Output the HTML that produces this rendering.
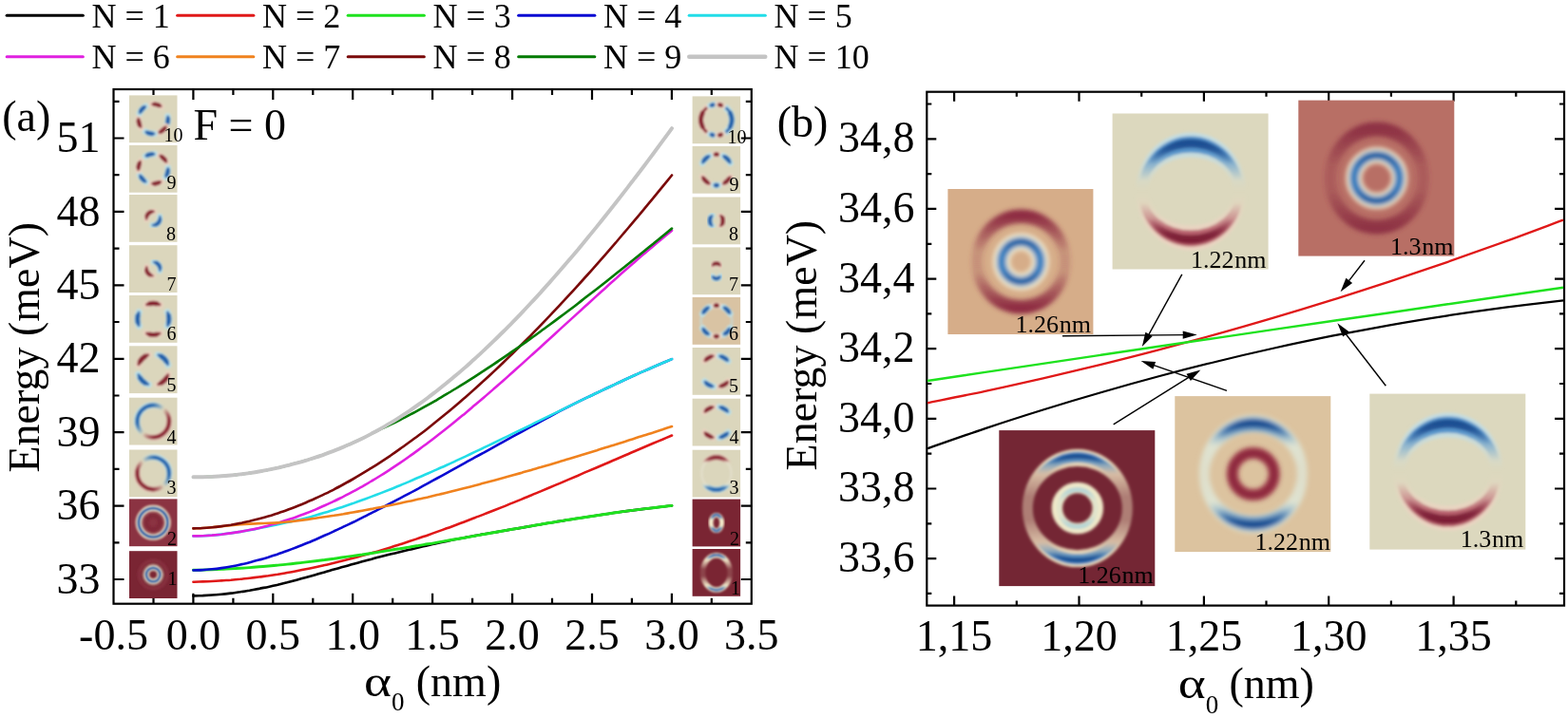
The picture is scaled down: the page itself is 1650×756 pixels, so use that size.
<!DOCTYPE html><html><head><meta charset="utf-8"><style>html,body{margin:0;padding:0;background:#fff;}svg{display:block}</style></head><body>
<svg width="1650" height="756" viewBox="0 0 1650 756" font-family="'Liberation Serif', 'Times New Roman', serif">
<rect width="1650" height="756" fill="#fff"/>
<line x1="7.2" y1="16.2" x2="87.3" y2="16.2" stroke="#000000" stroke-width="3.1" stroke-linecap="round"/>
<text x="96.5" y="28.6" font-size="36">N = 1</text>
<line x1="186.7" y1="16.2" x2="266.8" y2="16.2" stroke="#e01818" stroke-width="3.1" stroke-linecap="round"/>
<text x="276.0" y="28.6" font-size="36">N = 2</text>
<line x1="366.2" y1="16.2" x2="446.3" y2="16.2" stroke="#1ee21e" stroke-width="3.1" stroke-linecap="round"/>
<text x="455.5" y="28.6" font-size="36">N = 3</text>
<line x1="545.7" y1="16.2" x2="625.8" y2="16.2" stroke="#0a0ad2" stroke-width="3.1" stroke-linecap="round"/>
<text x="635.0" y="28.6" font-size="36">N = 4</text>
<line x1="725.2" y1="16.2" x2="805.3" y2="16.2" stroke="#22dde8" stroke-width="3.1" stroke-linecap="round"/>
<text x="814.5" y="28.6" font-size="36">N = 5</text>
<line x1="7.2" y1="59.8" x2="87.3" y2="59.8" stroke="#e020e0" stroke-width="3.1" stroke-linecap="round"/>
<text x="96.5" y="72.2" font-size="36">N = 6</text>
<line x1="186.7" y1="59.8" x2="266.8" y2="59.8" stroke="#f0821e" stroke-width="3.1" stroke-linecap="round"/>
<text x="276.0" y="72.2" font-size="36">N = 7</text>
<line x1="366.2" y1="59.8" x2="446.3" y2="59.8" stroke="#7a0a0a" stroke-width="3.1" stroke-linecap="round"/>
<text x="455.5" y="72.2" font-size="36">N = 8</text>
<line x1="545.7" y1="59.8" x2="625.8" y2="59.8" stroke="#007a00" stroke-width="3.1" stroke-linecap="round"/>
<text x="635.0" y="72.2" font-size="36">N = 9</text>
<line x1="725.2" y1="59.8" x2="805.3" y2="59.8" stroke="#c4c4c4" stroke-width="4.4" stroke-linecap="round"/>
<text x="814.5" y="72.2" font-size="36">N = 10</text>
<defs>
<filter id="b1" x="-20%" y="-20%" width="140%" height="140%"><feGaussianBlur stdDeviation="0.9"/></filter>
<filter id="b2" x="-20%" y="-20%" width="140%" height="140%"><feGaussianBlur stdDeviation="1.6"/></filter>
<filter id="b3" x="-20%" y="-20%" width="140%" height="140%"><feGaussianBlur stdDeviation="2.6"/></filter>
<filter id="b4" x="-20%" y="-20%" width="140%" height="140%"><feGaussianBlur stdDeviation="4"/></filter>
</defs>
<rect x="119.5" y="94.0" width="671.3" height="541.7" fill="none" stroke="#000" stroke-width="2.2"/>
<path d="M203.4,635.7v-11M203.4,94.0v11M287.3,635.7v-11M287.3,94.0v11M371.2,635.7v-11M371.2,94.0v11M455.1,635.7v-11M455.1,94.0v11M539.1,635.7v-11M539.1,94.0v11M623.0,635.7v-11M623.0,94.0v11M706.9,635.7v-11M706.9,94.0v11M119.5,610.0h11M790.8,610.0h-11M119.5,532.6h11M790.8,532.6h-11M119.5,455.2h11M790.8,455.2h-11M119.5,377.8h11M790.8,377.8h-11M119.5,300.3h11M790.8,300.3h-11M119.5,222.9h11M790.8,222.9h-11M119.5,145.5h11M790.8,145.5h-11M161.5,635.7v-6M161.5,94.0v6M245.4,635.7v-6M245.4,94.0v6M329.3,635.7v-6M329.3,94.0v6M413.2,635.7v-6M413.2,94.0v6M497.1,635.7v-6M497.1,94.0v6M581.0,635.7v-6M581.0,94.0v6M664.9,635.7v-6M664.9,94.0v6M748.8,635.7v-6M748.8,94.0v6M119.5,571.3h6M790.8,571.3h-6M119.5,493.9h6M790.8,493.9h-6M119.5,416.5h6M790.8,416.5h-6M119.5,339.0h6M790.8,339.0h-6M119.5,261.6h6M790.8,261.6h-6M119.5,184.2h6M790.8,184.2h-6M119.5,106.8h6M790.8,106.8h-6" stroke="#000" stroke-width="2.2" fill="none"/>
<rect x="136.0" y="100.4" width="50.5" height="49.8" fill="#dbd6bc"/><g filter="url(#b1)"><path d="M160.16,109.74A15.60,15.60 0 0 1 169.52,112.07" fill="none" stroke="#ead2c0" stroke-width="6.800000000000001" stroke-linecap="round" stroke-opacity="1"/><path d="M160.71,109.71A15.60,15.60 0 0 1 169.05,111.79" fill="none" stroke="#8e2a38" stroke-width="2.94" stroke-linecap="round" stroke-opacity="1"/><path d="M162.81,109.78A15.60,15.60 0 0 1 167.16,110.86" fill="none" stroke="#86202f" stroke-width="4.620000000000001" stroke-linecap="round" stroke-opacity="1"/><path d="M176.56,122.32A15.60,15.60 0 0 1 175.39,131.89" fill="none" stroke="#bfe0e6" stroke-width="6.800000000000001" stroke-linecap="round" stroke-opacity="1"/><path d="M176.66,122.86A15.60,15.60 0 0 1 175.61,131.40" fill="none" stroke="#2a6cb0" stroke-width="2.94" stroke-linecap="round" stroke-opacity="1"/><path d="M176.85,124.96A15.60,15.60 0 0 1 176.30,129.40" fill="none" stroke="#2262aa" stroke-width="4.620000000000001" stroke-linecap="round" stroke-opacity="1"/><path d="M174.62,133.33A15.60,15.60 0 0 1 167.35,139.66" fill="none" stroke="#ead2c0" stroke-width="6.800000000000001" stroke-linecap="round" stroke-opacity="1"/><path d="M174.33,133.80A15.60,15.60 0 0 1 167.84,139.44" fill="none" stroke="#8e2a38" stroke-width="2.94" stroke-linecap="round" stroke-opacity="1"/><path d="M173.07,135.48A15.60,15.60 0 0 1 169.69,138.42" fill="none" stroke="#86202f" stroke-width="4.620000000000001" stroke-linecap="round" stroke-opacity="1"/><path d="M162.61,140.84A15.60,15.60 0 0 1 153.22,138.67" fill="none" stroke="#bfe0e6" stroke-width="6.800000000000001" stroke-linecap="round" stroke-opacity="1"/><path d="M162.07,140.88A15.60,15.60 0 0 1 153.69,138.94" fill="none" stroke="#2a6cb0" stroke-width="2.94" stroke-linecap="round" stroke-opacity="1"/><path d="M159.96,140.85A15.60,15.60 0 0 1 155.60,139.84" fill="none" stroke="#2262aa" stroke-width="4.620000000000001" stroke-linecap="round" stroke-opacity="1"/><path d="M148.32,134.02A15.60,15.60 0 0 1 145.66,124.76" fill="none" stroke="#ead2c0" stroke-width="6.800000000000001" stroke-linecap="round" stroke-opacity="1"/><path d="M148.02,133.57A15.60,15.60 0 0 1 145.65,125.30" fill="none" stroke="#8e2a38" stroke-width="2.94" stroke-linecap="round" stroke-opacity="1"/><path d="M147.03,131.71A15.60,15.60 0 0 1 145.79,127.40" fill="none" stroke="#86202f" stroke-width="4.620000000000001" stroke-linecap="round" stroke-opacity="1"/><path d="M146.89,119.20A15.60,15.60 0 0 1 153.22,111.93" fill="none" stroke="#bfe0e6" stroke-width="6.800000000000001" stroke-linecap="round" stroke-opacity="1"/><path d="M147.11,118.71A15.60,15.60 0 0 1 152.75,112.22" fill="none" stroke="#2a6cb0" stroke-width="2.94" stroke-linecap="round" stroke-opacity="1"/><path d="M148.13,116.86A15.60,15.60 0 0 1 151.07,113.48" fill="none" stroke="#2262aa" stroke-width="4.620000000000001" stroke-linecap="round" stroke-opacity="1"/></g>
<rect x="728.6" y="101.4" width="50.5" height="49.8" fill="#dbd6bc"/><g filter="url(#b1)"><path d="M743.48,138.88A16.30,16.30 0 0 1 743.48,113.72" fill="none" stroke="#ead2c0" stroke-width="7.0" stroke-linecap="round" stroke-opacity="1"/><path d="M743.05,138.51A16.30,16.30 0 0 1 743.05,114.09" fill="none" stroke="#8e2a38" stroke-width="3.08" stroke-linecap="round" stroke-opacity="1"/><path d="M739.22,133.48A16.30,16.30 0 0 1 739.22,119.12" fill="none" stroke="#86202f" stroke-width="4.840000000000001" stroke-linecap="round" stroke-opacity="1"/><path d="M764.22,113.72A16.30,16.30 0 0 1 764.22,138.88" fill="none" stroke="#bfe0e6" stroke-width="7.0" stroke-linecap="round" stroke-opacity="1"/><path d="M764.65,114.09A16.30,16.30 0 0 1 764.65,138.51" fill="none" stroke="#2a6cb0" stroke-width="3.08" stroke-linecap="round" stroke-opacity="1"/><path d="M768.48,119.12A16.30,16.30 0 0 1 768.48,133.48" fill="none" stroke="#2262aa" stroke-width="4.840000000000001" stroke-linecap="round" stroke-opacity="1"/><path d="M747.48,111.30A16.30,16.30 0 0 1 751.86,110.12" fill="none" stroke="#bfe0e6" stroke-width="6.6" stroke-linecap="round" stroke-opacity="1"/><path d="M748.01,111.08A16.30,16.30 0 0 1 751.30,110.20" fill="none" stroke="#2a6cb0" stroke-width="2.8" stroke-linecap="round" stroke-opacity="1"/><path d="M748.88,110.78A16.30,16.30 0 0 1 750.39,110.37" fill="none" stroke="#2262aa" stroke-width="4.4" stroke-linecap="round" stroke-opacity="1"/><path d="M755.84,110.12A16.30,16.30 0 0 1 760.22,111.30" fill="none" stroke="#ead2c0" stroke-width="6.6" stroke-linecap="round" stroke-opacity="1"/><path d="M756.40,110.20A16.30,16.30 0 0 1 759.69,111.08" fill="none" stroke="#8e2a38" stroke-width="2.8" stroke-linecap="round" stroke-opacity="1"/><path d="M757.31,110.37A16.30,16.30 0 0 1 758.82,110.78" fill="none" stroke="#86202f" stroke-width="4.4" stroke-linecap="round" stroke-opacity="1"/><path d="M751.86,142.48A16.30,16.30 0 0 1 747.48,141.30" fill="none" stroke="#bfe0e6" stroke-width="6.6" stroke-linecap="round" stroke-opacity="1"/><path d="M751.30,142.40A16.30,16.30 0 0 1 748.01,141.52" fill="none" stroke="#2a6cb0" stroke-width="2.8" stroke-linecap="round" stroke-opacity="1"/><path d="M750.39,142.23A16.30,16.30 0 0 1 748.88,141.82" fill="none" stroke="#2262aa" stroke-width="4.4" stroke-linecap="round" stroke-opacity="1"/><path d="M760.22,141.30A16.30,16.30 0 0 1 755.84,142.48" fill="none" stroke="#ead2c0" stroke-width="6.6" stroke-linecap="round" stroke-opacity="1"/><path d="M759.69,141.52A16.30,16.30 0 0 1 756.40,142.40" fill="none" stroke="#8e2a38" stroke-width="2.8" stroke-linecap="round" stroke-opacity="1"/><path d="M758.82,141.82A16.30,16.30 0 0 1 757.31,142.23" fill="none" stroke="#86202f" stroke-width="4.4" stroke-linecap="round" stroke-opacity="1"/></g>
<rect x="136.0" y="152.9" width="50.5" height="49.8" fill="#dbd6bc"/><g filter="url(#b1)"><path d="M153.22,164.43A15.60,15.60 0 0 1 162.61,162.26" fill="none" stroke="#bfe0e6" stroke-width="6.800000000000001" stroke-linecap="round" stroke-opacity="1"/><path d="M153.69,164.16A15.60,15.60 0 0 1 162.07,162.22" fill="none" stroke="#2a6cb0" stroke-width="2.94" stroke-linecap="round" stroke-opacity="1"/><path d="M155.60,163.26A15.60,15.60 0 0 1 159.96,162.25" fill="none" stroke="#2262aa" stroke-width="4.620000000000001" stroke-linecap="round" stroke-opacity="1"/><path d="M168.33,163.90A15.60,15.60 0 0 1 175.15,170.72" fill="none" stroke="#ead2c0" stroke-width="6.800000000000001" stroke-linecap="round" stroke-opacity="1"/><path d="M168.81,164.16A15.60,15.60 0 0 1 174.89,170.24" fill="none" stroke="#8e2a38" stroke-width="2.94" stroke-linecap="round" stroke-opacity="1"/><path d="M170.58,165.30A15.60,15.60 0 0 1 173.75,168.47" fill="none" stroke="#86202f" stroke-width="4.620000000000001" stroke-linecap="round" stroke-opacity="1"/><path d="M176.83,176.98A15.60,15.60 0 0 1 174.33,186.30" fill="none" stroke="#bfe0e6" stroke-width="6.800000000000001" stroke-linecap="round" stroke-opacity="1"/><path d="M176.85,177.53A15.60,15.60 0 0 1 174.62,185.83" fill="none" stroke="#2a6cb0" stroke-width="2.94" stroke-linecap="round" stroke-opacity="1"/><path d="M176.74,179.63A15.60,15.60 0 0 1 175.58,183.96" fill="none" stroke="#2262aa" stroke-width="4.620000000000001" stroke-linecap="round" stroke-opacity="1"/><path d="M169.28,191.17A15.60,15.60 0 0 1 159.89,193.34" fill="none" stroke="#ead2c0" stroke-width="6.800000000000001" stroke-linecap="round" stroke-opacity="1"/><path d="M168.81,191.44A15.60,15.60 0 0 1 160.43,193.38" fill="none" stroke="#8e2a38" stroke-width="2.94" stroke-linecap="round" stroke-opacity="1"/><path d="M166.90,192.34A15.60,15.60 0 0 1 162.54,193.35" fill="none" stroke="#86202f" stroke-width="4.620000000000001" stroke-linecap="round" stroke-opacity="1"/><path d="M153.69,191.44A15.60,15.60 0 0 1 147.11,184.39" fill="none" stroke="#bfe0e6" stroke-width="6.800000000000001" stroke-linecap="round" stroke-opacity="1"/><path d="M153.22,191.17A15.60,15.60 0 0 1 147.35,184.88" fill="none" stroke="#2a6cb0" stroke-width="2.94" stroke-linecap="round" stroke-opacity="1"/><path d="M151.49,189.97A15.60,15.60 0 0 1 148.43,186.69" fill="none" stroke="#2262aa" stroke-width="4.620000000000001" stroke-linecap="round" stroke-opacity="1"/><path d="M145.71,179.16A15.60,15.60 0 0 1 147.88,169.77" fill="none" stroke="#ead2c0" stroke-width="6.800000000000001" stroke-linecap="round" stroke-opacity="1"/><path d="M145.67,178.62A15.60,15.60 0 0 1 147.61,170.24" fill="none" stroke="#8e2a38" stroke-width="2.94" stroke-linecap="round" stroke-opacity="1"/><path d="M145.70,176.51A15.60,15.60 0 0 1 146.71,172.15" fill="none" stroke="#86202f" stroke-width="4.620000000000001" stroke-linecap="round" stroke-opacity="1"/></g>
<rect x="728.6" y="153.9" width="50.5" height="49.8" fill="#dbd6bc"/><g filter="url(#b1)"><path d="M751.58,162.66A16.30,16.30 0 0 1 756.12,162.66" fill="none" stroke="#ead2c0" stroke-width="6.800000000000001" stroke-linecap="round" stroke-opacity="1"/><path d="M752.15,162.59A16.30,16.30 0 0 1 755.55,162.59" fill="none" stroke="#8e2a38" stroke-width="2.94" stroke-linecap="round" stroke-opacity="1"/><path d="M753.07,162.52A16.30,16.30 0 0 1 754.63,162.52" fill="none" stroke="#86202f" stroke-width="4.620000000000001" stroke-linecap="round" stroke-opacity="1"/><path d="M739.20,171.65A16.30,16.30 0 0 1 746.70,164.15" fill="none" stroke="#bfe0e6" stroke-width="6.800000000000001" stroke-linecap="round" stroke-opacity="1"/><path d="M739.46,171.15A16.30,16.30 0 0 1 746.20,164.41" fill="none" stroke="#2a6cb0" stroke-width="2.94" stroke-linecap="round" stroke-opacity="1"/><path d="M740.70,169.17A16.30,16.30 0 0 1 744.22,165.65" fill="none" stroke="#2262aa" stroke-width="4.620000000000001" stroke-linecap="round" stroke-opacity="1"/><path d="M761.00,164.15A16.30,16.30 0 0 1 768.50,171.65" fill="none" stroke="#bfe0e6" stroke-width="6.800000000000001" stroke-linecap="round" stroke-opacity="1"/><path d="M761.50,164.41A16.30,16.30 0 0 1 768.24,171.15" fill="none" stroke="#2a6cb0" stroke-width="2.94" stroke-linecap="round" stroke-opacity="1"/><path d="M763.48,165.65A16.30,16.30 0 0 1 767.00,169.17" fill="none" stroke="#2262aa" stroke-width="4.620000000000001" stroke-linecap="round" stroke-opacity="1"/><path d="M746.70,193.45A16.30,16.30 0 0 1 739.20,185.95" fill="none" stroke="#ead2c0" stroke-width="6.800000000000001" stroke-linecap="round" stroke-opacity="1"/><path d="M746.20,193.19A16.30,16.30 0 0 1 739.46,186.45" fill="none" stroke="#8e2a38" stroke-width="2.94" stroke-linecap="round" stroke-opacity="1"/><path d="M744.22,191.95A16.30,16.30 0 0 1 740.70,188.43" fill="none" stroke="#86202f" stroke-width="4.620000000000001" stroke-linecap="round" stroke-opacity="1"/><path d="M768.50,185.95A16.30,16.30 0 0 1 761.00,193.45" fill="none" stroke="#ead2c0" stroke-width="6.800000000000001" stroke-linecap="round" stroke-opacity="1"/><path d="M768.24,186.45A16.30,16.30 0 0 1 761.50,193.19" fill="none" stroke="#8e2a38" stroke-width="2.94" stroke-linecap="round" stroke-opacity="1"/><path d="M767.00,188.43A16.30,16.30 0 0 1 763.48,191.95" fill="none" stroke="#86202f" stroke-width="4.620000000000001" stroke-linecap="round" stroke-opacity="1"/><path d="M756.12,194.94A16.30,16.30 0 0 1 751.58,194.94" fill="none" stroke="#bfe0e6" stroke-width="6.800000000000001" stroke-linecap="round" stroke-opacity="1"/><path d="M755.55,195.01A16.30,16.30 0 0 1 752.15,195.01" fill="none" stroke="#2a6cb0" stroke-width="2.94" stroke-linecap="round" stroke-opacity="1"/><path d="M754.63,195.08A16.30,16.30 0 0 1 753.07,195.08" fill="none" stroke="#2262aa" stroke-width="4.620000000000001" stroke-linecap="round" stroke-opacity="1"/></g>
<rect x="136.0" y="205.0" width="50.5" height="49.8" fill="#dbd6bc"/><g filter="url(#b1)"><path d="M154.08,230.59A7.20,7.20 0 0 1 161.94,222.73" fill="none" stroke="#ead2c0" stroke-width="6.4" stroke-linecap="round" stroke-opacity="1"/><path d="M154.06,230.34A7.20,7.20 0 0 1 161.69,222.71" fill="none" stroke="#8e2a38" stroke-width="2.6599999999999997" stroke-linecap="round" stroke-opacity="1"/><path d="M154.44,227.57A7.20,7.20 0 0 1 158.92,223.09" fill="none" stroke="#86202f" stroke-width="4.18" stroke-linecap="round" stroke-opacity="1"/><path d="M168.19,227.98A7.20,7.20 0 0 1 160.56,237.07" fill="none" stroke="#bfe0e6" stroke-width="6.4" stroke-linecap="round" stroke-opacity="1"/><path d="M168.25,228.22A7.20,7.20 0 0 1 160.81,237.09" fill="none" stroke="#2a6cb0" stroke-width="2.6599999999999997" stroke-linecap="round" stroke-opacity="1"/><path d="M168.31,231.29A7.20,7.20 0 0 1 163.84,236.62" fill="none" stroke="#2262aa" stroke-width="4.18" stroke-linecap="round" stroke-opacity="1"/></g>
<rect x="728.6" y="207.5" width="50.5" height="49.8" fill="#dbd6bc"/><g filter="url(#b1)"><path d="M749.40,237.80A7.00,7.00 0 0 1 749.40,227.00" fill="none" stroke="#bfe0e6" stroke-width="6.6" stroke-linecap="round" stroke-opacity="1"/><path d="M749.21,237.64A7.00,7.00 0 0 1 749.21,227.16" fill="none" stroke="#2a6cb0" stroke-width="2.8" stroke-linecap="round" stroke-opacity="1"/><path d="M747.57,235.48A7.00,7.00 0 0 1 747.57,229.32" fill="none" stroke="#2262aa" stroke-width="4.4" stroke-linecap="round" stroke-opacity="1"/><path d="M758.30,227.00A7.00,7.00 0 0 1 758.30,237.80" fill="none" stroke="#ead2c0" stroke-width="6.6" stroke-linecap="round" stroke-opacity="1"/><path d="M758.49,227.16A7.00,7.00 0 0 1 758.49,237.64" fill="none" stroke="#8e2a38" stroke-width="2.8" stroke-linecap="round" stroke-opacity="1"/><path d="M760.13,229.32A7.00,7.00 0 0 1 760.13,235.48" fill="none" stroke="#86202f" stroke-width="4.4" stroke-linecap="round" stroke-opacity="1"/></g>
<rect x="136.0" y="258.2" width="50.5" height="49.8" fill="#dbd6bc"/><g filter="url(#b1)"><path d="M161.81,275.92A7.20,7.20 0 0 1 168.19,285.02" fill="none" stroke="#bfe0e6" stroke-width="6.4" stroke-linecap="round" stroke-opacity="1"/><path d="M162.07,275.95A7.20,7.20 0 0 1 168.25,284.78" fill="none" stroke="#2a6cb0" stroke-width="2.6599999999999997" stroke-linecap="round" stroke-opacity="1"/><path d="M164.73,276.80A7.20,7.20 0 0 1 168.36,281.99" fill="none" stroke="#2262aa" stroke-width="4.18" stroke-linecap="round" stroke-opacity="1"/><path d="M160.69,290.28A7.20,7.20 0 0 1 154.31,281.18" fill="none" stroke="#ead2c0" stroke-width="6.4" stroke-linecap="round" stroke-opacity="1"/><path d="M160.43,290.25A7.20,7.20 0 0 1 154.25,281.42" fill="none" stroke="#8e2a38" stroke-width="2.6599999999999997" stroke-linecap="round" stroke-opacity="1"/><path d="M157.77,289.40A7.20,7.20 0 0 1 154.14,284.21" fill="none" stroke="#86202f" stroke-width="4.18" stroke-linecap="round" stroke-opacity="1"/></g>
<rect x="728.6" y="260.4" width="50.5" height="49.8" fill="#dbd6bc"/><g filter="url(#b1)"><path d="M749.76,279.45A6.00,8.00 0 0 1 757.94,279.45" fill="none" stroke="#ead2c0" stroke-width="6.4" stroke-linecap="round" stroke-opacity="1"/><path d="M749.91,279.26A6.00,8.00 0 0 1 757.79,279.26" fill="none" stroke="#8e2a38" stroke-width="2.6599999999999997" stroke-linecap="round" stroke-opacity="1"/><path d="M751.60,277.88A6.00,8.00 0 0 1 756.10,277.88" fill="none" stroke="#86202f" stroke-width="4.18" stroke-linecap="round" stroke-opacity="1"/><path d="M757.94,291.15A6.00,8.00 0 0 1 749.76,291.15" fill="none" stroke="#bfe0e6" stroke-width="6.4" stroke-linecap="round" stroke-opacity="1"/><path d="M757.79,291.34A6.00,8.00 0 0 1 749.91,291.34" fill="none" stroke="#2a6cb0" stroke-width="2.6599999999999997" stroke-linecap="round" stroke-opacity="1"/><path d="M756.10,292.72A6.00,8.00 0 0 1 751.60,292.72" fill="none" stroke="#2262aa" stroke-width="4.18" stroke-linecap="round" stroke-opacity="1"/></g>
<rect x="136.0" y="311.0" width="50.5" height="49.8" fill="#dbd6bc"/><g filter="url(#b1)"><path d="M154.10,320.92A16.60,16.60 0 0 1 168.40,320.92" fill="none" stroke="#ead2c0" stroke-width="7.199999999999999" stroke-linecap="round" stroke-opacity="1"/><path d="M154.63,320.68A16.60,16.60 0 0 1 167.87,320.68" fill="none" stroke="#8e2a38" stroke-width="3.2199999999999998" stroke-linecap="round" stroke-opacity="1"/><path d="M157.69,319.69A16.60,16.60 0 0 1 164.81,319.69" fill="none" stroke="#86202f" stroke-width="5.06" stroke-linecap="round" stroke-opacity="1"/><path d="M176.23,328.75A16.60,16.60 0 0 1 176.23,343.05" fill="none" stroke="#bfe0e6" stroke-width="7.199999999999999" stroke-linecap="round" stroke-opacity="1"/><path d="M176.47,329.28A16.60,16.60 0 0 1 176.47,342.52" fill="none" stroke="#2a6cb0" stroke-width="3.2199999999999998" stroke-linecap="round" stroke-opacity="1"/><path d="M177.46,332.34A16.60,16.60 0 0 1 177.46,339.46" fill="none" stroke="#2262aa" stroke-width="5.06" stroke-linecap="round" stroke-opacity="1"/><path d="M168.40,350.88A16.60,16.60 0 0 1 154.10,350.88" fill="none" stroke="#ead2c0" stroke-width="7.199999999999999" stroke-linecap="round" stroke-opacity="1"/><path d="M167.87,351.12A16.60,16.60 0 0 1 154.63,351.12" fill="none" stroke="#8e2a38" stroke-width="3.2199999999999998" stroke-linecap="round" stroke-opacity="1"/><path d="M164.81,352.11A16.60,16.60 0 0 1 157.69,352.11" fill="none" stroke="#86202f" stroke-width="5.06" stroke-linecap="round" stroke-opacity="1"/><path d="M146.27,343.05A16.60,16.60 0 0 1 146.27,328.75" fill="none" stroke="#bfe0e6" stroke-width="7.199999999999999" stroke-linecap="round" stroke-opacity="1"/><path d="M146.03,342.52A16.60,16.60 0 0 1 146.03,329.28" fill="none" stroke="#2a6cb0" stroke-width="3.2199999999999998" stroke-linecap="round" stroke-opacity="1"/><path d="M145.04,339.46A16.60,16.60 0 0 1 145.04,332.34" fill="none" stroke="#2262aa" stroke-width="5.06" stroke-linecap="round" stroke-opacity="1"/></g>
<rect x="728.6" y="313.0" width="50.5" height="49.8" fill="#d9c3a3"/><g filter="url(#b1)"><circle cx="753.9" cy="337.9" r="16.3" fill="none" stroke="#bfe0e6" stroke-width="3" opacity="0.5"/><path d="M751.58,321.76A16.30,16.30 0 0 1 756.12,321.76" fill="none" stroke="#ead2c0" stroke-width="6.800000000000001" stroke-linecap="round" stroke-opacity="1"/><path d="M752.15,321.69A16.30,16.30 0 0 1 755.55,321.69" fill="none" stroke="#8e2a38" stroke-width="2.94" stroke-linecap="round" stroke-opacity="1"/><path d="M753.07,321.62A16.30,16.30 0 0 1 754.63,321.62" fill="none" stroke="#86202f" stroke-width="4.620000000000001" stroke-linecap="round" stroke-opacity="1"/><path d="M761.50,323.51A16.30,16.30 0 0 1 768.24,330.25" fill="none" stroke="#bfe0e6" stroke-width="6.800000000000001" stroke-linecap="round" stroke-opacity="1"/><path d="M762.00,323.78A16.30,16.30 0 0 1 767.97,329.75" fill="none" stroke="#2a6cb0" stroke-width="2.94" stroke-linecap="round" stroke-opacity="1"/><path d="M763.73,324.93A16.30,16.30 0 0 1 766.82,328.02" fill="none" stroke="#2262aa" stroke-width="4.620000000000001" stroke-linecap="round" stroke-opacity="1"/><path d="M768.24,345.55A16.30,16.30 0 0 1 761.50,352.29" fill="none" stroke="#bfe0e6" stroke-width="6.800000000000001" stroke-linecap="round" stroke-opacity="1"/><path d="M767.97,346.05A16.30,16.30 0 0 1 762.00,352.02" fill="none" stroke="#2a6cb0" stroke-width="2.94" stroke-linecap="round" stroke-opacity="1"/><path d="M766.82,347.78A16.30,16.30 0 0 1 763.73,350.87" fill="none" stroke="#2262aa" stroke-width="4.620000000000001" stroke-linecap="round" stroke-opacity="1"/><path d="M746.20,352.29A16.30,16.30 0 0 1 739.46,345.55" fill="none" stroke="#bfe0e6" stroke-width="6.800000000000001" stroke-linecap="round" stroke-opacity="1"/><path d="M745.70,352.02A16.30,16.30 0 0 1 739.73,346.05" fill="none" stroke="#2a6cb0" stroke-width="2.94" stroke-linecap="round" stroke-opacity="1"/><path d="M743.97,350.87A16.30,16.30 0 0 1 740.88,347.78" fill="none" stroke="#2262aa" stroke-width="4.620000000000001" stroke-linecap="round" stroke-opacity="1"/><path d="M739.46,330.25A16.30,16.30 0 0 1 746.20,323.51" fill="none" stroke="#bfe0e6" stroke-width="6.800000000000001" stroke-linecap="round" stroke-opacity="1"/><path d="M739.73,329.75A16.30,16.30 0 0 1 745.70,323.78" fill="none" stroke="#2a6cb0" stroke-width="2.94" stroke-linecap="round" stroke-opacity="1"/><path d="M740.88,328.02A16.30,16.30 0 0 1 743.97,324.93" fill="none" stroke="#2262aa" stroke-width="4.620000000000001" stroke-linecap="round" stroke-opacity="1"/><path d="M756.12,354.04A16.30,16.30 0 0 1 751.58,354.04" fill="none" stroke="#ead2c0" stroke-width="6.800000000000001" stroke-linecap="round" stroke-opacity="1"/><path d="M755.55,354.11A16.30,16.30 0 0 1 752.15,354.11" fill="none" stroke="#8e2a38" stroke-width="2.94" stroke-linecap="round" stroke-opacity="1"/><path d="M754.63,354.18A16.30,16.30 0 0 1 753.07,354.18" fill="none" stroke="#86202f" stroke-width="4.620000000000001" stroke-linecap="round" stroke-opacity="1"/></g>
<rect x="136.0" y="364.3" width="50.5" height="49.8" fill="#dbd6bc"/><g filter="url(#b1)"><path d="M145.65,384.13A16.40,16.40 0 0 1 156.18,373.60" fill="none" stroke="#ead2c0" stroke-width="7.199999999999999" stroke-linecap="round" stroke-opacity="1"/><path d="M145.84,383.59A16.40,16.40 0 0 1 155.64,373.79" fill="none" stroke="#8e2a38" stroke-width="3.2199999999999998" stroke-linecap="round" stroke-opacity="1"/><path d="M147.31,380.56A16.40,16.40 0 0 1 152.61,375.26" fill="none" stroke="#86202f" stroke-width="5.06" stroke-linecap="round" stroke-opacity="1"/><path d="M166.32,373.60A16.40,16.40 0 0 1 176.85,384.13" fill="none" stroke="#bfe0e6" stroke-width="7.199999999999999" stroke-linecap="round" stroke-opacity="1"/><path d="M166.86,373.79A16.40,16.40 0 0 1 176.66,383.59" fill="none" stroke="#2a6cb0" stroke-width="3.2199999999999998" stroke-linecap="round" stroke-opacity="1"/><path d="M169.89,375.26A16.40,16.40 0 0 1 175.19,380.56" fill="none" stroke="#2262aa" stroke-width="5.06" stroke-linecap="round" stroke-opacity="1"/><path d="M176.85,394.27A16.40,16.40 0 0 1 166.32,404.80" fill="none" stroke="#ead2c0" stroke-width="7.199999999999999" stroke-linecap="round" stroke-opacity="1"/><path d="M176.66,394.81A16.40,16.40 0 0 1 166.86,404.61" fill="none" stroke="#8e2a38" stroke-width="3.2199999999999998" stroke-linecap="round" stroke-opacity="1"/><path d="M175.19,397.84A16.40,16.40 0 0 1 169.89,403.14" fill="none" stroke="#86202f" stroke-width="5.06" stroke-linecap="round" stroke-opacity="1"/><path d="M156.18,404.80A16.40,16.40 0 0 1 145.65,394.27" fill="none" stroke="#bfe0e6" stroke-width="7.199999999999999" stroke-linecap="round" stroke-opacity="1"/><path d="M155.64,404.61A16.40,16.40 0 0 1 145.84,394.81" fill="none" stroke="#2a6cb0" stroke-width="3.2199999999999998" stroke-linecap="round" stroke-opacity="1"/><path d="M152.61,403.14A16.40,16.40 0 0 1 147.31,397.84" fill="none" stroke="#2262aa" stroke-width="5.06" stroke-linecap="round" stroke-opacity="1"/></g>
<rect x="728.6" y="366.0" width="50.5" height="49.8" fill="#dbd6bc"/><g filter="url(#b1)"><path d="M741.47,380.14A16.40,16.40 0 0 1 750.72,374.80" fill="none" stroke="#ead2c0" stroke-width="6.800000000000001" stroke-linecap="round" stroke-opacity="1"/><path d="M741.86,379.72A16.40,16.40 0 0 1 750.16,374.92" fill="none" stroke="#8e2a38" stroke-width="2.94" stroke-linecap="round" stroke-opacity="1"/><path d="M743.57,378.12A16.40,16.40 0 0 1 747.92,375.61" fill="none" stroke="#86202f" stroke-width="4.620000000000001" stroke-linecap="round" stroke-opacity="1"/><path d="M756.98,374.80A16.40,16.40 0 0 1 766.23,380.14" fill="none" stroke="#bfe0e6" stroke-width="6.800000000000001" stroke-linecap="round" stroke-opacity="1"/><path d="M757.54,374.92A16.40,16.40 0 0 1 765.84,379.72" fill="none" stroke="#2a6cb0" stroke-width="2.94" stroke-linecap="round" stroke-opacity="1"/><path d="M759.78,375.61A16.40,16.40 0 0 1 764.13,378.12" fill="none" stroke="#2262aa" stroke-width="4.620000000000001" stroke-linecap="round" stroke-opacity="1"/><path d="M766.23,401.66A16.40,16.40 0 0 1 756.98,407.00" fill="none" stroke="#ead2c0" stroke-width="6.800000000000001" stroke-linecap="round" stroke-opacity="1"/><path d="M765.84,402.08A16.40,16.40 0 0 1 757.54,406.88" fill="none" stroke="#8e2a38" stroke-width="2.94" stroke-linecap="round" stroke-opacity="1"/><path d="M764.13,403.68A16.40,16.40 0 0 1 759.78,406.19" fill="none" stroke="#86202f" stroke-width="4.620000000000001" stroke-linecap="round" stroke-opacity="1"/><path d="M750.72,407.00A16.40,16.40 0 0 1 741.47,401.66" fill="none" stroke="#bfe0e6" stroke-width="6.800000000000001" stroke-linecap="round" stroke-opacity="1"/><path d="M750.16,406.88A16.40,16.40 0 0 1 741.86,402.08" fill="none" stroke="#2a6cb0" stroke-width="2.94" stroke-linecap="round" stroke-opacity="1"/><path d="M747.92,406.19A16.40,16.40 0 0 1 743.57,403.68" fill="none" stroke="#2262aa" stroke-width="4.620000000000001" stroke-linecap="round" stroke-opacity="1"/></g>
<rect x="136.0" y="418.7" width="50.5" height="49.8" fill="#dbd6bc"/><g filter="url(#b1)"><ellipse cx="161.2" cy="443.6" rx="16.8" ry="16.8" fill="none" stroke="url(#g0)" stroke-width="7.5" opacity="1"/><ellipse cx="161.2" cy="443.6" rx="16.8" ry="16.8" fill="none" stroke="url(#g1)" stroke-width="4.4" opacity="1"/><ellipse cx="161.2" cy="443.6" rx="16.8" ry="16.8" fill="none" stroke="url(#g2)" stroke-width="7.5" opacity="1"/><ellipse cx="161.2" cy="443.6" rx="16.8" ry="16.8" fill="none" stroke="url(#g3)" stroke-width="4.4" opacity="1"/></g>
<rect x="728.6" y="419.7" width="50.5" height="49.8" fill="#dbd6bc"/><g filter="url(#b1)"><path d="M741.47,433.84A16.40,16.40 0 0 1 750.72,428.50" fill="none" stroke="#ead2c0" stroke-width="6.800000000000001" stroke-linecap="round" stroke-opacity="1"/><path d="M741.86,433.42A16.40,16.40 0 0 1 750.16,428.62" fill="none" stroke="#8e2a38" stroke-width="2.94" stroke-linecap="round" stroke-opacity="1"/><path d="M743.57,431.82A16.40,16.40 0 0 1 747.92,429.31" fill="none" stroke="#86202f" stroke-width="4.620000000000001" stroke-linecap="round" stroke-opacity="1"/><path d="M756.98,428.50A16.40,16.40 0 0 1 766.23,433.84" fill="none" stroke="#bfe0e6" stroke-width="6.800000000000001" stroke-linecap="round" stroke-opacity="1"/><path d="M757.54,428.62A16.40,16.40 0 0 1 765.84,433.42" fill="none" stroke="#2a6cb0" stroke-width="2.94" stroke-linecap="round" stroke-opacity="1"/><path d="M759.78,429.31A16.40,16.40 0 0 1 764.13,431.82" fill="none" stroke="#2262aa" stroke-width="4.620000000000001" stroke-linecap="round" stroke-opacity="1"/><path d="M750.72,460.70A16.40,16.40 0 0 1 741.47,455.36" fill="none" stroke="#ead2c0" stroke-width="6.800000000000001" stroke-linecap="round" stroke-opacity="1"/><path d="M750.16,460.58A16.40,16.40 0 0 1 741.86,455.78" fill="none" stroke="#8e2a38" stroke-width="2.94" stroke-linecap="round" stroke-opacity="1"/><path d="M747.92,459.89A16.40,16.40 0 0 1 743.57,457.38" fill="none" stroke="#86202f" stroke-width="4.620000000000001" stroke-linecap="round" stroke-opacity="1"/><path d="M766.23,455.36A16.40,16.40 0 0 1 756.98,460.70" fill="none" stroke="#bfe0e6" stroke-width="6.800000000000001" stroke-linecap="round" stroke-opacity="1"/><path d="M765.84,455.78A16.40,16.40 0 0 1 757.54,460.58" fill="none" stroke="#2a6cb0" stroke-width="2.94" stroke-linecap="round" stroke-opacity="1"/><path d="M764.13,457.38A16.40,16.40 0 0 1 759.78,459.89" fill="none" stroke="#2262aa" stroke-width="4.620000000000001" stroke-linecap="round" stroke-opacity="1"/></g>
<rect x="136.0" y="473.5" width="50.5" height="49.8" fill="#dbd6bc"/><g filter="url(#b1)"><ellipse cx="161.2" cy="498.4" rx="16.8" ry="16.8" fill="none" stroke="url(#g4)" stroke-width="7.5" opacity="1"/><ellipse cx="161.2" cy="498.4" rx="16.8" ry="16.8" fill="none" stroke="url(#g5)" stroke-width="4.4" opacity="1"/><ellipse cx="161.2" cy="498.4" rx="16.8" ry="16.8" fill="none" stroke="url(#g6)" stroke-width="7.5" opacity="1"/><ellipse cx="161.2" cy="498.4" rx="16.8" ry="16.8" fill="none" stroke="url(#g7)" stroke-width="4.4" opacity="1"/></g>
<rect x="728.6" y="473.7" width="50.5" height="49.8" fill="#dbd6bc"/><g filter="url(#b1)"><ellipse cx="753.9" cy="498.6" rx="15.5" ry="17" fill="none" stroke="#e9e6d6" stroke-width="2.5" opacity="0.5"/><ellipse cx="753.9" cy="498.6" rx="15.5" ry="17" fill="none" stroke="url(#g8)" stroke-width="7" opacity="1"/><ellipse cx="753.9" cy="498.6" rx="15.5" ry="17" fill="none" stroke="url(#g9)" stroke-width="4.8" opacity="1"/><ellipse cx="753.9" cy="498.6" rx="15.5" ry="17" fill="none" stroke="url(#g10)" stroke-width="7" opacity="1"/><ellipse cx="753.9" cy="498.6" rx="15.5" ry="17" fill="none" stroke="url(#g11)" stroke-width="4.8" opacity="1"/></g>
<rect x="136.0" y="525.4" width="50.5" height="49.8" fill="#8b3342"/><g filter="url(#b1)"><circle cx="161.2" cy="550.3" r="7" fill="none" stroke="#7a2230" stroke-width="4" opacity="0.6"/><circle cx="161.2" cy="550.3" r="15.2" fill="none" stroke="#f4eccc" stroke-width="6.6"/><circle cx="161.2" cy="550.3" r="15.2" fill="none" stroke="#1f5fa6" stroke-width="3.4"/></g>
<rect x="728.6" y="525.6" width="50.5" height="49.8" fill="#7a2533"/><g filter="url(#b1)"><ellipse cx="753.9" cy="550.5" rx="5.8" ry="8.2" fill="none" stroke="#f4eccc" stroke-width="4.8" opacity="1"/><ellipse cx="753.9" cy="550.5" rx="5.8" ry="8.4" fill="none" stroke="url(#g12)" stroke-width="3" opacity="1"/></g>
<rect x="136.0" y="580.2" width="50.5" height="49.8" fill="#7a2533"/><g filter="url(#b1)"><circle cx="161.2" cy="605.1" r="14.5" fill="none" stroke="#8c3444" stroke-width="4" opacity="0.7"/><circle cx="161.2" cy="605.1" r="7.3" fill="none" stroke="#f4eccc" stroke-width="6.4"/><circle cx="161.2" cy="605.1" r="7.3" fill="none" stroke="#1f5fa6" stroke-width="3.2"/></g>
<rect x="728.6" y="578.0" width="50.5" height="49.8" fill="#7a2533"/><g filter="url(#b1)"><ellipse cx="753.9" cy="602.9" rx="14.3" ry="18.2" fill="none" stroke="url(#g13)" stroke-width="5.5" opacity="1"/><ellipse cx="753.9" cy="602.9" rx="14.3" ry="18.4" fill="none" stroke="url(#g14)" stroke-width="3" opacity="1"/></g>
<text x="172.5" y="148.9" font-size="20">10</text>
<text x="765.5" y="150.7" font-size="20">10</text>
<text x="175.5" y="199.1" font-size="20">9</text>
<text x="767.5" y="200.5" font-size="20">9</text>
<text x="175" y="253.2" font-size="20">8</text>
<text x="767" y="253.2" font-size="20">8</text>
<text x="175.5" y="306.3" font-size="20">7</text>
<text x="767" y="306.3" font-size="20">7</text>
<text x="175.5" y="358.2" font-size="20">6</text>
<text x="767" y="358.2" font-size="20">6</text>
<text x="175.5" y="412" font-size="20">5</text>
<text x="767" y="412.7" font-size="20">5</text>
<text x="175.5" y="467.1" font-size="20">4</text>
<text x="767.5" y="467.1" font-size="20">4</text>
<text x="175.5" y="519.7" font-size="20">3</text>
<text x="767.5" y="519.7" font-size="20">3</text>
<text x="176" y="573.6" font-size="20">2</text>
<text x="768" y="574" font-size="20">2</text>
<text x="176.5" y="615.7" font-size="20">1</text>
<text x="769" y="625.6" font-size="20">1</text>
<path d="M203.4,627.4 C205.0,627.3 210.0,627.2 213.3,627.1 C216.6,626.9 219.9,626.7 223.1,626.5 C226.4,626.3 229.7,626.0 233.0,625.7 C236.3,625.4 239.6,625.0 242.9,624.6 C246.2,624.2 249.5,623.7 252.8,623.3 C256.1,622.8 259.4,622.2 262.6,621.7 C265.9,621.1 269.2,620.5 272.5,619.9 C275.8,619.2 279.1,618.6 282.4,617.9 C285.7,617.2 289.0,616.4 292.3,615.7 C295.6,614.9 298.9,614.1 302.1,613.3 C305.4,612.4 308.7,611.6 312.0,610.7 C315.3,609.8 318.6,608.9 321.9,608.0 C325.2,607.1 328.5,606.2 331.8,605.3 C335.1,604.3 338.4,603.4 341.6,602.5 C344.9,601.5 348.2,600.6 351.5,599.6 C354.8,598.7 358.1,597.7 361.4,596.8 C364.7,595.9 368.0,594.9 371.3,594.0 C374.6,593.1 377.8,592.2 381.1,591.3 C384.4,590.4 387.7,589.5 391.0,588.7 C394.3,587.8 397.6,586.9 400.9,586.1 C404.2,585.3 407.5,584.4 410.8,583.6 C414.1,582.8 417.3,582.0 420.6,581.2 C423.9,580.4 427.2,579.6 430.5,578.8 C433.8,578.0 437.1,577.3 440.4,576.5 C443.7,575.7 447.0,575.0 450.3,574.2 C453.6,573.5 456.8,572.7 460.1,572.0 C463.4,571.3 466.7,570.5 470.0,569.9 C473.3,569.2 476.6,568.5 479.9,567.8 C483.2,567.2 486.5,566.6 489.8,565.9 C493.1,565.3 496.3,564.7 499.6,564.1 C502.9,563.5 506.2,563.0 509.5,562.4 C512.8,561.8 516.1,561.3 519.4,560.7 C522.7,560.1 526.0,559.6 529.3,559.0 C532.6,558.4 535.8,557.9 539.1,557.3 C542.4,556.7 545.7,556.1 549.0,555.6 C552.3,555.0 555.6,554.4 558.9,553.9 C562.2,553.3 565.5,552.8 568.8,552.2 C572.0,551.6 575.3,551.1 578.6,550.5 C581.9,550.0 585.2,549.4 588.5,548.9 C591.8,548.4 595.1,547.8 598.4,547.3 C601.7,546.8 605.0,546.2 608.3,545.7 C611.5,545.2 614.8,544.7 618.1,544.2 C621.4,543.7 624.7,543.2 628.0,542.7 C631.3,542.2 634.6,541.7 637.9,541.2 C641.2,540.7 644.5,540.3 647.8,539.8 C651.0,539.3 654.3,538.9 657.6,538.4 C660.9,538.0 664.2,537.6 667.5,537.1 C670.8,536.7 674.1,536.3 677.4,535.9 C680.7,535.5 684.0,535.1 687.3,534.7 C690.5,534.3 693.8,533.9 697.1,533.5 C700.4,533.1 705.4,532.6 707.0,532.4" fill="none" stroke="#000000" stroke-width="2.6" stroke-linecap="round" stroke-linejoin="round"/>
<path d="M203.4,612.7 C205.0,612.6 210.0,612.5 213.3,612.4 C216.6,612.3 219.9,612.2 223.1,612.0 C226.4,611.8 229.7,611.6 233.0,611.4 C236.3,611.2 239.6,610.9 242.9,610.7 C246.2,610.4 249.5,610.1 252.8,609.8 C256.1,609.4 259.4,609.1 262.6,608.7 C265.9,608.3 269.2,607.9 272.5,607.5 C275.8,607.1 279.1,606.6 282.4,606.2 C285.7,605.7 289.0,605.2 292.3,604.7 C295.6,604.1 298.9,603.6 302.1,603.0 C305.4,602.5 308.7,601.9 312.0,601.2 C315.3,600.6 318.6,600.0 321.9,599.3 C325.2,598.7 328.5,598.0 331.8,597.3 C335.1,596.6 338.4,595.8 341.6,595.1 C344.9,594.3 348.2,593.6 351.5,592.8 C354.8,592.0 358.1,591.2 361.4,590.3 C364.7,589.5 368.0,588.7 371.3,587.8 C374.6,586.9 377.8,586.0 381.1,585.1 C384.4,584.2 387.7,583.3 391.0,582.3 C394.3,581.4 397.6,580.4 400.9,579.4 C404.2,578.4 407.5,577.4 410.8,576.4 C414.1,575.4 417.3,574.3 420.6,573.3 C423.9,572.2 427.2,571.2 430.5,570.1 C433.8,569.0 437.1,567.9 440.4,566.8 C443.7,565.7 447.0,564.5 450.3,563.4 C453.6,562.2 456.8,561.1 460.1,559.9 C463.4,558.7 466.7,557.5 470.0,556.3 C473.3,555.2 476.6,553.9 479.9,552.7 C483.2,551.5 486.5,550.3 489.8,549.0 C493.1,547.8 496.3,546.5 499.6,545.2 C502.9,544.0 506.2,542.7 509.5,541.4 C512.8,540.1 516.1,538.8 519.4,537.5 C522.7,536.2 526.0,534.9 529.3,533.6 C532.6,532.3 535.8,530.9 539.1,529.6 C542.4,528.3 545.7,526.9 549.0,525.6 C552.3,524.2 555.6,522.8 558.9,521.5 C562.2,520.1 565.5,518.7 568.8,517.4 C572.0,516.0 575.3,514.6 578.6,513.2 C581.9,511.8 585.2,510.5 588.5,509.1 C591.8,507.7 595.1,506.3 598.4,504.9 C601.7,503.5 605.0,502.1 608.3,500.7 C611.5,499.2 614.8,497.8 618.1,496.4 C621.4,495.0 624.7,493.6 628.0,492.2 C631.3,490.8 634.6,489.4 637.9,488.0 C641.2,486.5 644.5,485.1 647.8,483.7 C651.0,482.3 654.3,480.9 657.6,479.5 C660.9,478.1 664.2,476.7 667.5,475.2 C670.8,473.8 674.1,472.4 677.4,471.0 C680.7,469.6 684.0,468.2 687.3,466.8 C690.5,465.4 693.8,464.0 697.1,462.7 C700.4,461.3 705.4,459.2 707.0,458.5" fill="none" stroke="#e01818" stroke-width="2.6" stroke-linecap="round" stroke-linejoin="round"/>
<path d="M203.4,600.3 C205.0,600.3 210.0,600.2 213.3,600.1 C216.6,600.0 219.9,599.9 223.1,599.8 C226.4,599.7 229.7,599.5 233.0,599.4 C236.3,599.2 239.6,599.1 242.9,598.9 C246.2,598.7 249.5,598.5 252.8,598.3 C256.1,598.1 259.4,597.9 262.6,597.6 C265.9,597.4 269.2,597.1 272.5,596.8 C275.8,596.6 279.1,596.3 282.4,596.0 C285.7,595.7 289.0,595.4 292.3,595.1 C295.6,594.8 298.9,594.4 302.1,594.1 C305.4,593.8 308.7,593.4 312.0,593.0 C315.3,592.7 318.6,592.3 321.9,591.9 C325.2,591.5 328.5,591.1 331.8,590.7 C335.1,590.3 338.4,589.9 341.6,589.5 C344.9,589.0 348.2,588.6 351.5,588.2 C354.8,587.7 358.1,587.3 361.4,586.8 C364.7,586.4 368.0,585.9 371.3,585.4 C374.6,584.9 377.8,584.4 381.1,584.0 C384.4,583.5 387.7,583.0 391.0,582.5 C394.3,582.0 397.6,581.5 400.9,580.9 C404.2,580.4 407.5,579.9 410.8,579.4 C414.1,578.8 417.3,578.3 420.6,577.8 C423.9,577.2 427.2,576.7 430.5,576.1 C433.8,575.6 437.1,575.0 440.4,574.5 C443.7,573.9 447.0,573.4 450.3,572.8 C453.6,572.3 456.8,571.7 460.1,571.1 C463.4,570.6 466.7,570.0 470.0,569.4 C473.3,568.8 476.6,568.3 479.9,567.7 C483.2,567.1 486.5,566.5 489.8,566.0 C493.1,565.4 496.3,564.8 499.6,564.2 C502.9,563.6 506.2,563.1 509.5,562.5 C512.8,561.9 516.1,561.3 519.4,560.7 C522.7,560.2 526.0,559.6 529.3,559.0 C532.6,558.4 535.8,557.9 539.1,557.3 C542.4,556.7 545.7,556.1 549.0,555.6 C552.3,555.0 555.6,554.4 558.9,553.9 C562.2,553.3 565.5,552.8 568.8,552.2 C572.0,551.6 575.3,551.1 578.6,550.5 C581.9,550.0 585.2,549.4 588.5,548.9 C591.8,548.4 595.1,547.8 598.4,547.3 C601.7,546.8 605.0,546.2 608.3,545.7 C611.5,545.2 614.8,544.7 618.1,544.2 C621.4,543.7 624.7,543.2 628.0,542.7 C631.3,542.2 634.6,541.7 637.9,541.2 C641.2,540.7 644.5,540.3 647.8,539.8 C651.0,539.3 654.3,538.9 657.6,538.4 C660.9,538.0 664.2,537.6 667.5,537.1 C670.8,536.7 674.1,536.3 677.4,535.9 C680.7,535.5 684.0,535.1 687.3,534.7 C690.5,534.3 693.8,533.9 697.1,533.5 C700.4,533.1 705.4,532.6 707.0,532.4" fill="none" stroke="#1ee21e" stroke-width="2.9" stroke-linecap="round" stroke-linejoin="round"/>
<path d="M203.4,600.5 C205.0,600.4 210.0,600.3 213.3,600.1 C216.6,599.9 219.9,599.6 223.1,599.3 C226.4,599.0 229.7,598.6 233.0,598.1 C236.3,597.6 239.6,597.1 242.9,596.5 C246.2,595.9 249.5,595.3 252.8,594.5 C256.1,593.8 259.4,593.1 262.6,592.2 C265.9,591.4 269.2,590.5 272.5,589.6 C275.8,588.7 279.1,587.7 282.4,586.7 C285.7,585.6 289.0,584.6 292.3,583.5 C295.6,582.3 298.9,581.2 302.1,580.0 C305.4,578.8 308.7,577.5 312.0,576.3 C315.3,575.0 318.6,573.7 321.9,572.3 C325.2,571.0 328.5,569.6 331.8,568.2 C335.1,566.8 338.4,565.3 341.6,563.8 C344.9,562.4 348.2,560.9 351.5,559.3 C354.8,557.8 358.1,556.3 361.4,554.7 C364.7,553.1 368.0,551.6 371.3,550.0 C374.6,548.4 377.8,546.7 381.1,545.1 C384.4,543.5 387.7,541.8 391.0,540.1 C394.3,538.5 397.6,536.8 400.9,535.1 C404.2,533.4 407.5,531.7 410.8,530.0 C414.1,528.3 417.3,526.5 420.6,524.8 C423.9,523.1 427.2,521.3 430.5,519.6 C433.8,517.8 437.1,516.0 440.4,514.3 C443.7,512.5 447.0,510.7 450.3,508.9 C453.6,507.1 456.8,505.3 460.1,503.5 C463.4,501.7 466.7,499.9 470.0,498.1 C473.3,496.3 476.6,494.5 479.9,492.6 C483.2,490.8 486.5,489.0 489.8,487.2 C493.1,485.4 496.3,483.5 499.6,481.7 C502.9,479.9 506.2,478.1 509.5,476.3 C512.8,474.4 516.1,472.6 519.4,470.8 C522.7,469.0 526.0,467.2 529.3,465.3 C532.6,463.5 535.8,461.7 539.1,459.9 C542.4,458.1 545.7,456.3 549.0,454.5 C552.3,452.7 555.6,451.0 558.9,449.2 C562.2,447.4 565.5,445.6 568.8,443.8 C572.0,442.0 575.3,440.2 578.6,438.5 C581.9,436.7 585.2,435.0 588.5,433.2 C591.8,431.5 595.1,429.8 598.4,428.1 C601.7,426.5 605.0,424.8 608.3,423.2 C611.5,421.6 614.8,420.0 618.1,418.4 C621.4,416.8 624.7,415.2 628.0,413.7 C631.3,412.1 634.6,410.6 637.9,409.0 C641.2,407.5 644.5,405.9 647.8,404.4 C651.0,402.8 654.3,401.3 657.6,399.8 C660.9,398.3 664.2,396.8 667.5,395.3 C670.8,393.8 674.1,392.3 677.4,390.9 C680.7,389.4 684.0,388.0 687.3,386.5 C690.5,385.1 693.8,383.7 697.1,382.3 C700.4,380.9 705.4,378.8 707.0,378.1" fill="none" stroke="#0a0ad2" stroke-width="2.6" stroke-linecap="round" stroke-linejoin="round"/>
<path d="M203.4,564.4 C205.0,564.4 210.0,564.3 213.3,564.2 C216.6,564.0 219.9,563.8 223.1,563.6 C226.4,563.3 229.7,563.0 233.0,562.6 C236.3,562.2 239.6,561.8 242.9,561.4 C246.2,560.9 249.5,560.4 252.8,559.9 C256.1,559.3 259.4,558.7 262.6,558.1 C265.9,557.6 269.2,556.9 272.5,556.3 C275.8,555.6 279.1,555.0 282.4,554.3 C285.7,553.6 289.0,552.9 292.3,552.2 C295.6,551.5 298.9,550.8 302.1,550.1 C305.4,549.4 308.7,548.6 312.0,547.8 C315.3,547.1 318.6,546.3 321.9,545.4 C325.2,544.6 328.5,543.7 331.8,542.7 C335.1,541.8 338.4,540.8 341.6,539.8 C344.9,538.8 348.2,537.8 351.5,536.7 C354.8,535.6 358.1,534.6 361.4,533.5 C364.7,532.4 368.0,531.2 371.3,530.1 C374.6,528.9 377.8,527.7 381.1,526.5 C384.4,525.3 387.7,524.1 391.0,522.9 C394.3,521.6 397.6,520.4 400.9,519.1 C404.2,517.8 407.5,516.5 410.8,515.2 C414.1,513.9 417.3,512.5 420.6,511.2 C423.9,509.8 427.2,508.4 430.5,507.1 C433.8,505.7 437.1,504.3 440.4,502.8 C443.7,501.4 447.0,500.0 450.3,498.5 C453.6,497.1 456.8,495.6 460.1,494.1 C463.4,492.7 466.7,491.2 470.0,489.7 C473.3,488.2 476.6,486.7 479.9,485.1 C483.2,483.6 486.5,482.1 489.8,480.6 C493.1,479.0 496.3,477.5 499.6,475.9 C502.9,474.3 506.2,472.8 509.5,471.2 C512.8,469.6 516.1,468.1 519.4,466.5 C522.7,464.9 526.0,463.3 529.3,461.7 C532.6,460.1 535.8,458.5 539.1,456.9 C542.4,455.3 545.7,453.7 549.0,452.1 C552.3,450.5 555.6,448.9 558.9,447.3 C562.2,445.6 565.5,444.0 568.8,442.4 C572.0,440.8 575.3,439.2 578.6,437.6 C581.9,436.0 585.2,434.4 588.5,432.8 C591.8,431.2 595.1,429.5 598.4,427.9 C601.7,426.3 605.0,424.8 608.3,423.2 C611.5,421.6 614.8,420.0 618.1,418.4 C621.4,416.8 624.7,415.2 628.0,413.7 C631.3,412.1 634.6,410.6 637.9,409.0 C641.2,407.5 644.5,405.9 647.8,404.4 C651.0,402.8 654.3,401.3 657.6,399.8 C660.9,398.3 664.2,396.8 667.5,395.3 C670.8,393.8 674.1,392.3 677.4,390.9 C680.7,389.4 684.0,388.0 687.3,386.5 C690.5,385.1 693.8,383.7 697.1,382.3 C700.4,380.9 705.4,378.8 707.0,378.1" fill="none" stroke="#22dde8" stroke-width="2.6" stroke-linecap="round" stroke-linejoin="round"/>
<path d="M203.4,564.4 C205.0,564.4 210.0,564.3 213.3,564.2 C216.6,564.0 219.9,563.8 223.1,563.6 C226.4,563.3 229.7,563.0 233.0,562.7 C236.3,562.3 239.6,561.9 242.9,561.4 C246.2,561.0 249.5,560.5 252.8,559.9 C256.1,559.3 259.4,558.7 262.6,558.0 C265.9,557.4 269.2,556.7 272.5,555.9 C275.8,555.1 279.1,554.3 282.4,553.4 C285.7,552.6 289.0,551.6 292.3,550.7 C295.6,549.7 298.9,548.7 302.1,547.6 C305.4,546.5 308.7,545.4 312.0,544.2 C315.3,543.0 318.6,541.8 321.9,540.5 C325.2,539.3 328.5,538.0 331.8,536.6 C335.1,535.2 338.4,533.8 341.6,532.3 C344.9,530.8 348.2,529.3 351.5,527.7 C354.8,526.2 358.1,524.5 361.4,522.9 C364.7,521.2 368.0,519.5 371.3,517.7 C374.6,516.0 377.8,514.1 381.1,512.3 C384.4,510.4 387.7,508.5 391.0,506.5 C394.3,504.6 397.6,502.6 400.9,500.5 C404.2,498.5 407.5,496.3 410.8,494.2 C414.1,492.0 417.3,489.8 420.6,487.6 C423.9,485.4 427.2,483.1 430.5,480.7 C433.8,478.4 437.1,476.0 440.4,473.6 C443.7,471.2 447.0,468.8 450.3,466.3 C453.6,463.8 456.8,461.3 460.1,458.7 C463.4,456.2 466.7,453.6 470.0,451.0 C473.3,448.4 476.6,445.7 479.9,443.0 C483.2,440.4 486.5,437.6 489.8,434.9 C493.1,432.2 496.3,429.4 499.6,426.6 C502.9,423.8 506.2,421.0 509.5,418.2 C512.8,415.4 516.1,412.5 519.4,409.6 C522.7,406.8 526.0,403.9 529.3,401.0 C532.6,398.1 535.8,395.1 539.1,392.2 C542.4,389.3 545.7,386.3 549.0,383.4 C552.3,380.4 555.6,377.4 558.9,374.4 C562.2,371.5 565.5,368.5 568.8,365.5 C572.0,362.5 575.3,359.5 578.6,356.5 C581.9,353.5 585.2,350.4 588.5,347.4 C591.8,344.4 595.1,341.4 598.4,338.4 C601.7,335.4 605.0,332.4 608.3,329.4 C611.5,326.4 614.8,323.3 618.1,320.4 C621.4,317.4 624.7,314.4 628.0,311.4 C631.3,308.4 634.6,305.4 637.9,302.5 C641.2,299.5 644.5,296.5 647.8,293.6 C651.0,290.7 654.3,287.7 657.6,284.8 C660.9,281.9 664.2,279.0 667.5,276.2 C670.8,273.3 674.1,270.4 677.4,267.6 C680.7,264.8 684.0,261.9 687.3,259.2 C690.5,256.4 693.8,253.6 697.1,250.9 C700.4,248.1 705.4,244.1 707.0,242.7" fill="none" stroke="#e020e0" stroke-width="2.6" stroke-linecap="round" stroke-linejoin="round"/>
<path d="M203.4,556.4 C205.0,556.3 210.0,556.2 213.3,556.0 C216.6,555.8 219.9,555.5 223.1,555.2 C226.4,555.0 229.7,554.6 233.0,554.3 C236.3,553.9 239.6,553.6 242.9,553.2 C246.2,552.9 249.5,552.6 252.8,552.3 C256.1,552.0 259.4,551.8 262.6,551.6 C265.9,551.4 269.2,551.2 272.5,551.1 C275.8,551.0 279.1,550.9 282.4,550.8 C285.7,550.7 289.0,550.6 292.3,550.4 C295.6,550.2 298.9,549.9 302.1,549.5 C305.4,549.2 308.7,548.8 312.0,548.4 C315.3,547.9 318.6,547.5 321.9,547.1 C325.2,546.6 328.5,546.2 331.8,545.7 C335.1,545.3 338.4,544.8 341.6,544.3 C344.9,543.8 348.2,543.3 351.5,542.8 C354.8,542.2 358.1,541.7 361.4,541.2 C364.7,540.6 368.0,540.1 371.3,539.5 C374.6,538.9 377.8,538.3 381.1,537.7 C384.4,537.1 387.7,536.5 391.0,535.9 C394.3,535.2 397.6,534.6 400.9,534.0 C404.2,533.3 407.5,532.6 410.8,532.0 C414.1,531.3 417.3,530.6 420.6,529.9 C423.9,529.2 427.2,528.5 430.5,527.8 C433.8,527.1 437.1,526.3 440.4,525.6 C443.7,524.9 447.0,524.1 450.3,523.4 C453.6,522.6 456.8,521.8 460.1,521.0 C463.4,520.3 466.7,519.5 470.0,518.7 C473.3,517.9 476.6,517.1 479.9,516.2 C483.2,515.4 486.5,514.6 489.8,513.7 C493.1,512.9 496.3,512.1 499.6,511.2 C502.9,510.3 506.2,509.5 509.5,508.6 C512.8,507.7 516.1,506.9 519.4,506.0 C522.7,505.1 526.0,504.2 529.3,503.3 C532.6,502.4 535.8,501.5 539.1,500.5 C542.4,499.6 545.7,498.7 549.0,497.8 C552.3,496.8 555.6,495.9 558.9,494.9 C562.2,494.0 565.5,493.0 568.8,492.1 C572.0,491.1 575.3,490.1 578.6,489.2 C581.9,488.2 585.2,487.2 588.5,486.2 C591.8,485.2 595.1,484.3 598.4,483.3 C601.7,482.3 605.0,481.3 608.3,480.3 C611.5,479.3 614.8,478.2 618.1,477.2 C621.4,476.2 624.7,475.2 628.0,474.2 C631.3,473.1 634.6,472.1 637.9,471.1 C641.2,470.1 644.5,469.0 647.8,468.0 C651.0,466.9 654.3,465.9 657.6,464.9 C660.9,463.8 664.2,462.8 667.5,461.7 C670.8,460.6 674.1,459.6 677.4,458.5 C680.7,457.5 684.0,456.4 687.3,455.4 C690.5,454.3 693.8,453.2 697.1,452.2 C700.4,451.1 705.4,449.5 707.0,449.0" fill="none" stroke="#f0821e" stroke-width="2.6" stroke-linecap="round" stroke-linejoin="round"/>
<path d="M203.4,556.4 C205.0,556.3 210.0,556.2 213.3,556.0 C216.6,555.8 219.9,555.5 223.1,555.2 C226.4,554.9 229.7,554.5 233.0,554.1 C236.3,553.7 239.6,553.2 242.9,552.7 C246.2,552.1 249.5,551.5 252.8,550.9 C256.1,550.2 259.4,549.5 262.6,548.8 C265.9,548.0 269.2,547.2 272.5,546.3 C275.8,545.4 279.1,544.5 282.4,543.5 C285.7,542.5 289.0,541.5 292.3,540.4 C295.6,539.3 298.9,538.2 302.1,537.0 C305.4,535.8 308.7,534.5 312.0,533.2 C315.3,531.9 318.6,530.6 321.9,529.2 C325.2,527.8 328.5,526.3 331.8,524.8 C335.1,523.3 338.4,521.8 341.6,520.2 C344.9,518.6 348.2,517.0 351.5,515.3 C354.8,513.6 358.1,511.8 361.4,510.0 C364.7,508.2 368.0,506.4 371.3,504.5 C374.6,502.6 377.8,500.7 381.1,498.7 C384.4,496.8 387.7,494.7 391.0,492.7 C394.3,490.6 397.6,488.5 400.9,486.4 C404.2,484.2 407.5,482.0 410.8,479.8 C414.1,477.5 417.3,475.2 420.6,472.9 C423.9,470.6 427.2,468.2 430.5,465.8 C433.8,463.4 437.1,461.0 440.4,458.5 C443.7,456.0 447.0,453.5 450.3,450.9 C453.6,448.3 456.8,445.7 460.1,443.1 C463.4,440.4 466.7,437.7 470.0,435.0 C473.3,432.3 476.6,429.5 479.9,426.7 C483.2,423.9 486.5,421.1 489.8,418.2 C493.1,415.3 496.3,412.4 499.6,409.5 C502.9,406.5 506.2,403.5 509.5,400.5 C512.8,397.5 516.1,394.4 519.4,391.4 C522.7,388.3 526.0,385.2 529.3,382.0 C532.6,378.9 535.8,375.7 539.1,372.5 C542.4,369.2 545.7,366.0 549.0,362.7 C552.3,359.4 555.6,356.1 558.9,352.8 C562.2,349.4 565.5,346.1 568.8,342.6 C572.0,339.2 575.3,335.8 578.6,332.3 C581.9,328.9 585.2,325.4 588.5,321.9 C591.8,318.4 595.1,314.8 598.4,311.2 C601.7,307.7 605.0,304.1 608.3,300.4 C611.5,296.8 614.8,293.1 618.1,289.5 C621.4,285.8 624.7,282.1 628.0,278.3 C631.3,274.6 634.6,270.9 637.9,267.1 C641.2,263.3 644.5,259.5 647.8,255.7 C651.0,251.8 654.3,248.0 657.6,244.1 C660.9,240.2 664.2,236.4 667.5,232.4 C670.8,228.5 674.1,224.6 677.4,220.6 C680.7,216.7 684.0,212.7 687.3,208.7 C690.5,204.7 693.8,200.7 697.1,196.6 C700.4,192.6 705.4,186.5 707.0,184.5" fill="none" stroke="#7a0a0a" stroke-width="2.6" stroke-linecap="round" stroke-linejoin="round"/>
<path d="M203.4,502.2 C205.0,502.2 210.0,502.2 213.3,502.2 C216.6,502.1 219.9,502.0 223.1,501.9 C226.4,501.7 229.7,501.6 233.0,501.3 C236.3,501.1 239.6,500.8 242.9,500.5 C246.2,500.2 249.5,499.8 252.8,499.4 C256.1,499.0 259.4,498.6 262.6,498.1 C265.9,497.6 269.2,497.1 272.5,496.5 C275.8,495.9 279.1,495.3 282.4,494.7 C285.7,494.0 289.0,493.3 292.3,492.6 C295.6,491.8 298.9,491.1 302.1,490.2 C305.4,489.4 308.7,488.5 312.0,487.6 C315.3,486.7 318.6,485.8 321.9,484.8 C325.2,483.8 328.5,482.7 331.8,481.7 C335.1,480.6 338.4,479.5 341.6,478.3 C344.9,477.1 348.2,475.9 351.5,474.6 C354.8,473.3 358.1,472.0 361.4,470.6 C364.7,469.3 368.0,467.8 371.3,466.3 C374.6,464.8 377.8,463.3 381.1,461.7 C384.4,460.1 387.7,458.3 391.0,456.6 C394.3,455.0 397.6,453.3 400.9,451.7 C404.2,450.1 407.5,448.6 410.8,447.1 C414.1,445.5 417.3,444.0 420.6,442.4 C423.9,440.7 427.2,439.0 430.5,437.2 C433.8,435.5 437.1,433.7 440.4,431.9 C443.7,430.1 447.0,428.3 450.3,426.4 C453.6,424.6 456.8,422.7 460.1,420.8 C463.4,418.9 466.7,416.9 470.0,414.9 C473.3,413.0 476.6,411.0 479.9,409.0 C483.2,406.9 486.5,404.9 489.8,402.8 C493.1,400.8 496.3,398.7 499.6,396.6 C502.9,394.4 506.2,392.3 509.5,390.1 C512.8,388.0 516.1,385.8 519.4,383.6 C522.7,381.4 526.0,379.2 529.3,376.9 C532.6,374.7 535.8,372.4 539.1,370.1 C542.4,367.8 545.7,365.5 549.0,363.2 C552.3,360.9 555.6,358.5 558.9,356.1 C562.2,353.8 565.5,351.4 568.8,349.0 C572.0,346.6 575.3,344.2 578.6,341.8 C581.9,339.3 585.2,336.9 588.5,334.4 C591.8,331.9 595.1,329.5 598.4,327.0 C601.7,324.5 605.0,322.0 608.3,319.4 C611.5,316.9 614.8,314.4 618.1,311.8 C621.4,309.3 624.7,306.7 628.0,304.2 C631.3,301.6 634.6,299.0 637.9,296.4 C641.2,293.8 644.5,291.2 647.8,288.6 C651.0,286.0 654.3,283.3 657.6,280.7 C660.9,278.1 664.2,275.4 667.5,272.8 C670.8,270.1 674.1,267.5 677.4,264.8 C680.7,262.1 684.0,259.4 687.3,256.8 C690.5,254.1 693.8,251.4 697.1,248.7 C700.4,246.0 705.4,241.9 707.0,240.6" fill="none" stroke="#007a00" stroke-width="2.6" stroke-linecap="round" stroke-linejoin="round"/>
<path d="M203.4,502.2 C205.0,502.2 210.0,502.2 213.3,502.2 C216.6,502.1 219.9,502.0 223.1,501.9 C226.4,501.7 229.7,501.6 233.0,501.3 C236.3,501.1 239.6,500.8 242.9,500.5 C246.2,500.2 249.5,499.8 252.8,499.4 C256.1,499.0 259.4,498.6 262.6,498.1 C265.9,497.6 269.2,497.1 272.5,496.5 C275.8,495.9 279.1,495.3 282.4,494.7 C285.7,494.0 289.0,493.3 292.3,492.6 C295.6,491.8 298.9,491.1 302.1,490.2 C305.4,489.4 308.7,488.5 312.0,487.6 C315.3,486.7 318.6,485.8 321.9,484.8 C325.2,483.8 328.5,482.7 331.8,481.7 C335.1,480.6 338.4,479.5 341.6,478.3 C344.9,477.1 348.2,475.9 351.5,474.6 C354.8,473.3 358.1,472.0 361.4,470.6 C364.7,469.3 368.0,467.8 371.3,466.3 C374.6,464.8 377.8,463.3 381.1,461.7 C384.4,460.1 387.7,458.4 391.0,456.6 C394.3,454.9 397.6,453.1 400.9,451.2 C404.2,449.4 407.5,447.4 410.8,445.4 C414.1,443.5 417.3,441.4 420.6,439.3 C423.9,437.2 427.2,435.0 430.5,432.8 C433.8,430.6 437.1,428.3 440.4,425.9 C443.7,423.6 447.0,421.2 450.3,418.7 C453.6,416.3 456.8,413.7 460.1,411.2 C463.4,408.6 466.7,406.0 470.0,403.3 C473.3,400.6 476.6,397.9 479.9,395.1 C483.2,392.3 486.5,389.5 489.8,386.6 C493.1,383.7 496.3,380.7 499.6,377.8 C502.9,374.8 506.2,371.7 509.5,368.6 C512.8,365.6 516.1,362.4 519.4,359.2 C522.7,356.0 526.0,352.8 529.3,349.5 C532.6,346.3 535.8,342.9 539.1,339.6 C542.4,336.2 545.7,332.8 549.0,329.3 C552.3,325.9 555.6,322.4 558.9,318.8 C562.2,315.3 565.5,311.7 568.8,308.1 C572.0,304.4 575.3,300.8 578.6,297.1 C581.9,293.4 585.2,289.6 588.5,285.8 C591.8,282.0 595.1,278.2 598.4,274.3 C601.7,270.5 605.0,266.6 608.3,262.7 C611.5,258.7 614.8,254.8 618.1,250.7 C621.4,246.7 624.7,242.7 628.0,238.6 C631.3,234.6 634.6,230.5 637.9,226.3 C641.2,222.2 644.5,218.0 647.8,213.8 C651.0,209.6 654.3,205.4 657.6,201.1 C660.9,196.8 664.2,192.6 667.5,188.2 C670.8,183.9 674.1,179.6 677.4,175.2 C680.7,170.8 684.0,166.4 687.3,162.0 C690.5,157.6 693.8,153.1 697.1,148.6 C700.4,144.2 705.4,137.4 707.0,135.1" fill="none" stroke="#c4c4c4" stroke-width="3.9" stroke-linecap="round" stroke-linejoin="round"/>
<text x="105.5" y="624.6" font-size="46" text-anchor="end">33</text>
<text x="105.5" y="547.2" font-size="46" text-anchor="end">36</text>
<text x="105.5" y="469.8" font-size="46" text-anchor="end">39</text>
<text x="105.5" y="392.4" font-size="46" text-anchor="end">42</text>
<text x="105.5" y="314.9" font-size="46" text-anchor="end">45</text>
<text x="105.5" y="237.5" font-size="46" text-anchor="end">48</text>
<text x="105.5" y="160.1" font-size="46" text-anchor="end">51</text>
<text x="119.5" y="684.2" font-size="46" text-anchor="middle">-0.5</text>
<text x="203.4" y="684.2" font-size="46" text-anchor="middle">0.0</text>
<text x="287.3" y="684.2" font-size="46" text-anchor="middle">0.5</text>
<text x="371.2" y="684.2" font-size="46" text-anchor="middle">1.0</text>
<text x="455.1" y="684.2" font-size="46" text-anchor="middle">1.5</text>
<text x="539.1" y="684.2" font-size="46" text-anchor="middle">2.0</text>
<text x="623.0" y="684.2" font-size="46" text-anchor="middle">2.5</text>
<text x="706.9" y="684.2" font-size="46" text-anchor="middle">3.0</text>
<text x="790.8" y="684.2" font-size="46" text-anchor="middle">3.5</text>
<text x="2.2" y="137.6" font-size="46">(a)</text>
<text x="203.5" y="146.9" font-size="46">F = 0</text>
<text transform="translate(40.7,365.7) rotate(-90)" font-size="46" text-anchor="middle">Energy (meV)</text>
<text transform="translate(382.9,732.5) scale(1.2,1)" font-size="46">α</text><text x="412" y="748" font-size="27">0</text><text x="437.8" y="732.5" font-size="46">(nm)</text>
<rect x="975.3" y="96.7" width="670.7" height="540.9" fill="none" stroke="#000" stroke-width="2.2"/>
<path d="M1004.1,637.6v-10M1004.1,96.7v10M1135.5,637.6v-10M1135.5,96.7v10M1266.9,637.6v-10M1266.9,96.7v10M1398.2,637.6v-10M1398.2,96.7v10M1529.6,637.6v-10M1529.6,96.7v10M975.3,588.1h10M1646.0,588.1h-10M975.3,514.5h10M1646.0,514.5h-10M975.3,440.8h10M1646.0,440.8h-10M975.3,367.2h10M1646.0,367.2h-10M975.3,293.6h10M1646.0,293.6h-10M975.3,219.9h10M1646.0,219.9h-10M975.3,146.3h10M1646.0,146.3h-10M1069.8,637.6v-5M1069.8,96.7v5M1201.2,637.6v-5M1201.2,96.7v5M1332.5,637.6v-5M1332.5,96.7v5M1463.9,637.6v-5M1463.9,96.7v5M1595.3,637.6v-5M1595.3,96.7v5M975.3,624.9h5M1646.0,624.9h-5M975.3,551.3h5M1646.0,551.3h-5M975.3,477.7h5M1646.0,477.7h-5M975.3,404.0h5M1646.0,404.0h-5M975.3,330.4h5M1646.0,330.4h-5M975.3,256.8h5M1646.0,256.8h-5M975.3,183.1h5M1646.0,183.1h-5M975.3,109.5h5M1646.0,109.5h-5" stroke="#000" stroke-width="2.2" fill="none"/>
<path d="M976.0,472.2 C986.1,468.7 1016.5,457.9 1036.8,451.1 C1057.1,444.3 1077.4,437.8 1097.6,431.5 C1117.9,425.1 1138.2,419.0 1158.5,413.2 C1178.7,407.3 1199.0,401.6 1219.3,396.2 C1239.5,390.8 1259.8,385.6 1280.1,380.7 C1300.4,375.7 1320.6,371.0 1340.9,366.5 C1361.2,362.0 1381.5,357.8 1401.7,353.7 C1422.0,349.7 1442.3,345.9 1462.5,342.3 C1482.8,338.7 1503.1,335.4 1523.4,332.3 C1543.6,329.2 1563.9,326.3 1584.2,323.6 C1604.5,321.0 1634.9,317.6 1645.0,316.3" fill="none" stroke="#000" stroke-width="2.2"/>
<path d="M976.0,424.3 C986.1,422.2 1016.5,416.2 1036.8,411.8 C1057.1,407.5 1077.4,403.0 1097.6,398.4 C1117.9,393.7 1138.2,388.9 1158.5,383.9 C1178.7,378.9 1199.0,373.8 1219.3,368.4 C1239.5,363.1 1259.8,357.6 1280.1,351.9 C1300.4,346.3 1320.6,340.4 1340.9,334.4 C1361.2,328.4 1381.5,322.2 1401.7,315.9 C1422.0,309.6 1442.3,303.0 1462.5,296.4 C1482.8,289.7 1503.1,282.8 1523.4,275.8 C1543.6,268.8 1563.9,261.6 1584.2,254.2 C1604.5,246.9 1634.9,235.4 1645.0,231.7" fill="none" stroke="#e01818" stroke-width="2.3"/>
<path d="M976.0,401.0 C986.1,399.5 1016.5,394.9 1036.8,391.9 C1057.1,388.9 1077.4,385.9 1097.6,382.9 C1117.9,379.8 1138.2,376.8 1158.5,373.8 C1178.7,370.8 1199.0,367.8 1219.3,364.8 C1239.5,361.8 1259.8,358.8 1280.1,355.9 C1300.4,352.9 1320.6,349.9 1340.9,346.9 C1361.2,343.9 1381.5,341.0 1401.7,338.0 C1422.0,335.1 1442.3,332.1 1462.5,329.2 C1482.8,326.2 1503.1,323.3 1523.4,320.3 C1543.6,317.4 1563.9,314.5 1584.2,311.5 C1604.5,308.6 1634.9,304.2 1645.0,302.8" fill="none" stroke="#1ee21e" stroke-width="2.4"/>
<rect x="997.4" y="199.0" width="153" height="153" fill="#d6ad89"/><g filter="url(#b3)"><path d="M1022.4,275.5a52,55 0 1 0 104,0a52,55 0 1 0 -104,0ZM1033.4,275.5a41,40.5 0 1 1 82,0a41,40.5 0 1 1 -82,0Z" fill="url(#g15)" fill-rule="evenodd"/><ellipse cx="1074.4" cy="275.5" rx="20.5" ry="21" fill="none" stroke="#f2ecd2" stroke-width="18" opacity="1"/><ellipse cx="1074.4" cy="275.5" rx="20.5" ry="21" fill="none" stroke="#4088c6" stroke-width="10" opacity="1"/><ellipse cx="1074.4" cy="275.5" rx="20.5" ry="21" fill="none" stroke="url(#g16)" stroke-width="4.5" opacity="1"/></g><text x="1068.5" y="350" font-size="26">1.26<tspan dx="0.8">nm</tspan></text>
<rect x="1170.6" y="119.5" width="164" height="164" fill="#dcd8be"/><g filter="url(#b2)"><path d="M1195.1,201.5a58,62 0 1 0 116,0a58,62 0 1 0 -116,0ZM1208.1,201.5a45,36 0 1 1 90,0a45,36 0 1 1 -90,0Z" fill="url(#g17)" fill-rule="evenodd"/><path d="M1198.1,201.5a55,58 0 1 0 110,0a55,58 0 1 0 -110,0ZM1205.1,201.5a48,41 0 1 1 96,0a48,41 0 1 1 -96,0Z" fill="url(#g18)" fill-rule="evenodd"/><path d="M1200.1,201.5a53,55 0 1 0 106,0a53,55 0 1 0 -106,0ZM1203.1,201.5a50,46 0 1 1 100,0a50,46 0 1 1 -100,0Z" fill="url(#g19)" fill-rule="evenodd"/><path d="M1195.1,201.5a58,62 0 1 0 116,0a58,62 0 1 0 -116,0ZM1208.1,201.5a45,36 0 1 1 90,0a45,36 0 1 1 -90,0Z" fill="url(#g20)" fill-rule="evenodd"/><path d="M1198.1,201.5a55,58 0 1 0 110,0a55,58 0 1 0 -110,0ZM1205.1,201.5a48,41 0 1 1 96,0a48,41 0 1 1 -96,0Z" fill="url(#g21)" fill-rule="evenodd"/><path d="M1200.1,201.5a53,55 0 1 0 106,0a53,55 0 1 0 -106,0ZM1203.1,201.5a50,46 0 1 1 100,0a50,46 0 1 1 -100,0Z" fill="url(#g22)" fill-rule="evenodd"/></g><text x="1253" y="281.6" font-size="26">1.22<tspan dx="0.8">nm</tspan></text>
<rect x="1366.3" y="105.6" width="164" height="164" fill="#b86f65"/><g filter="url(#b3)"><path d="M1393.8,187.6a55,59 0 1 0 110,0a55,59 0 1 0 -110,0ZM1405.8,187.6a43,44 0 1 1 86,0a43,44 0 1 1 -86,0Z" fill="url(#g23)" fill-rule="evenodd"/><ellipse cx="1448.8" cy="187.6" rx="24" ry="24" fill="none" stroke="#f4eccc" stroke-width="17" opacity="1"/><ellipse cx="1448.8" cy="187.6" rx="24" ry="24" fill="none" stroke="#3f86c4" stroke-width="10" opacity="1"/><ellipse cx="1448.8" cy="187.6" rx="24" ry="24" fill="none" stroke="url(#g24)" stroke-width="4.5" opacity="1"/></g><text x="1463" y="268" font-size="26">1.3<tspan dx="0.8">nm</tspan></text>
<rect x="1051.3" y="453.1" width="164" height="164" fill="#742634"/><g filter="url(#b2)"><path d="M1075.8,535.1a58,62 0 1 0 116,0a58,62 0 1 0 -116,0ZM1086.8,535.1a47,44 0 1 1 94,0a47,44 0 1 1 -94,0Z" fill="url(#g25)" fill-rule="evenodd"/><path d="M1078.3,535.1a55.5,59.5 0 1 0 111.0,0a55.5,59.5 0 1 0 -111.0,0ZM1084.3,535.1a49.5,48 0 1 1 99.0,0a49.5,48 0 1 1 -99.0,0Z" fill="url(#g26)" fill-rule="evenodd"/><path d="M1079.8,535.1a54,57 0 1 0 108,0a54,57 0 1 0 -108,0ZM1082.8,535.1a51,52 0 1 1 102,0a51,52 0 1 1 -102,0Z" fill="url(#g27)" fill-rule="evenodd"/><ellipse cx="1133.8" cy="535.1" rx="21.5" ry="21.5" fill="none" stroke="#efe9c9" stroke-width="11.5" opacity="1"/><ellipse cx="1133.8" cy="535.1" rx="19.5" ry="19.5" fill="none" stroke="url(#g28)" stroke-width="5" opacity="1"/></g><text x="1134.3" y="614.2" font-size="26">1.26<tspan dx="0.8">nm</tspan></text>
<rect x="1236.3" y="417.1" width="164" height="164" fill="#dcc39f"/><g filter="url(#b3)"><path d="M1261.8,499.1a57,62 0 1 0 114,0a57,62 0 1 0 -114,0ZM1272.8,499.1a46,44 0 1 1 92,0a46,44 0 1 1 -92,0Z" fill="url(#g29)" fill-rule="evenodd"/><path d="M1263.3,499.1a55.5,59.5 0 1 0 111.0,0a55.5,59.5 0 1 0 -111.0,0ZM1271.3,499.1a47.5,45 0 1 1 95.0,0a47.5,45 0 1 1 -95.0,0Z" fill="url(#g30)" fill-rule="evenodd"/><path d="M1265.3,499.1a53.5,57 0 1 0 107.0,0a53.5,57 0 1 0 -107.0,0ZM1269.3,499.1a49.5,49 0 1 1 99.0,0a49.5,49 0 1 1 -99.0,0Z" fill="url(#g31)" fill-rule="evenodd"/><ellipse cx="1318.8" cy="499.1" rx="22" ry="22" fill="none" stroke="#9a3244" stroke-width="12" opacity="1"/><ellipse cx="1318.8" cy="499.1" rx="22" ry="22" fill="none" stroke="#7c1e34" stroke-width="5" opacity="0.5"/></g><text x="1320.5" y="579" font-size="26">1.22<tspan dx="0.8">nm</tspan></text>
<rect x="1441.3" y="414.6" width="164" height="164" fill="#dcd8be"/><g filter="url(#b2)"><path d="M1465.8,496.6a58,62 0 1 0 116,0a58,62 0 1 0 -116,0ZM1478.8,496.6a45,36 0 1 1 90,0a45,36 0 1 1 -90,0Z" fill="url(#g32)" fill-rule="evenodd"/><path d="M1468.8,496.6a55,58 0 1 0 110,0a55,58 0 1 0 -110,0ZM1475.8,496.6a48,41 0 1 1 96,0a48,41 0 1 1 -96,0Z" fill="url(#g33)" fill-rule="evenodd"/><path d="M1470.8,496.6a53,55 0 1 0 106,0a53,55 0 1 0 -106,0ZM1473.8,496.6a50,46 0 1 1 100,0a50,46 0 1 1 -100,0Z" fill="url(#g34)" fill-rule="evenodd"/><path d="M1465.8,496.6a58,62 0 1 0 116,0a58,62 0 1 0 -116,0ZM1478.8,496.6a45,36 0 1 1 90,0a45,36 0 1 1 -90,0Z" fill="url(#g35)" fill-rule="evenodd"/><path d="M1468.8,496.6a55,58 0 1 0 110,0a55,58 0 1 0 -110,0ZM1475.8,496.6a48,41 0 1 1 96,0a48,41 0 1 1 -96,0Z" fill="url(#g36)" fill-rule="evenodd"/><path d="M1470.8,496.6a53,55 0 1 0 106,0a53,55 0 1 0 -106,0ZM1473.8,496.6a50,46 0 1 1 100,0a50,46 0 1 1 -100,0Z" fill="url(#g37)" fill-rule="evenodd"/></g><text x="1536.8" y="576" font-size="26">1.3<tspan dx="0.8">nm</tspan></text>
<line x1="1118.0" y1="353.7" x2="1246.7" y2="352.6" stroke="#000" stroke-width="1.4"/><path d="M1259.7,352.5L1244.7,356.8L1244.7,348.4Z" fill="#000"/>
<line x1="1243.8" y1="288.9" x2="1208.1" y2="353.6" stroke="#000" stroke-width="1.4"/><path d="M1201.8,365.0L1205.4,349.8L1212.7,353.9Z" fill="#000"/>
<line x1="1291.0" y1="411.3" x2="1212.9" y2="384.2" stroke="#000" stroke-width="1.4"/><path d="M1200.6,379.9L1216.1,380.9L1213.4,388.8Z" fill="#000"/>
<line x1="1171.7" y1="446.8" x2="1252.4" y2="396.3" stroke="#000" stroke-width="1.4"/><path d="M1263.4,389.4L1252.9,400.9L1248.5,393.8Z" fill="#000"/>
<line x1="1436.0" y1="274.3" x2="1418.5" y2="296.9" stroke="#000" stroke-width="1.4"/><path d="M1410.6,307.2L1416.4,292.8L1423.1,297.9Z" fill="#000"/>
<line x1="1458.3" y1="406.3" x2="1415.3" y2="350.5" stroke="#000" stroke-width="1.4"/><path d="M1407.4,340.2L1419.9,349.5L1413.2,354.6Z" fill="#000"/>
<text x="962.5" y="602.0" font-size="46" text-anchor="end">33,6</text>
<text x="962.5" y="528.4" font-size="46" text-anchor="end">33,8</text>
<text x="962.5" y="454.7" font-size="46" text-anchor="end">34,0</text>
<text x="962.5" y="381.1" font-size="46" text-anchor="end">34,2</text>
<text x="962.5" y="307.5" font-size="46" text-anchor="end">34,4</text>
<text x="962.5" y="233.8" font-size="46" text-anchor="end">34,6</text>
<text x="962.5" y="160.2" font-size="46" text-anchor="end">34,8</text>
<text x="1004.1" y="684.9" font-size="46" text-anchor="middle">1,15</text>
<text x="1135.5" y="684.9" font-size="46" text-anchor="middle">1,20</text>
<text x="1266.9" y="684.9" font-size="46" text-anchor="middle">1,25</text>
<text x="1398.2" y="684.9" font-size="46" text-anchor="middle">1,30</text>
<text x="1529.6" y="684.9" font-size="46" text-anchor="middle">1,35</text>
<text x="817.8" y="144" font-size="46">(b)</text>
<text transform="translate(859.2,363.6) rotate(-90)" font-size="46" text-anchor="middle">Energy (meV)</text>
<text transform="translate(1239.8,735) scale(1.2,1)" font-size="46">α</text><text x="1268.8" y="751" font-size="27">0</text><text x="1293.5" y="735" font-size="46">(nm)</text>
<defs><linearGradient id="g0" x1="0.117" y1="0.179" x2="0.883" y2="0.821"><stop offset="0" stop-color="#bfe0e6" stop-opacity="1"/><stop offset="0.5" stop-color="#bfe0e6" stop-opacity="0"/></linearGradient><linearGradient id="g1" x1="0.117" y1="0.179" x2="0.883" y2="0.821"><stop offset="0" stop-color="#2a6cb0" stop-opacity="1"/><stop offset="0.15" stop-color="#2a6cb0" stop-opacity="1"/><stop offset="0.5" stop-color="#2a6cb0" stop-opacity="0"/></linearGradient><linearGradient id="g2" x1="0.883" y1="0.821" x2="0.117" y2="0.179"><stop offset="0" stop-color="#e6c8b8" stop-opacity="1"/><stop offset="0.5" stop-color="#e6c8b8" stop-opacity="0"/></linearGradient><linearGradient id="g3" x1="0.883" y1="0.821" x2="0.117" y2="0.179"><stop offset="0" stop-color="#8e2a38" stop-opacity="1"/><stop offset="0.15" stop-color="#8e2a38" stop-opacity="1"/><stop offset="0.5" stop-color="#8e2a38" stop-opacity="0"/></linearGradient><linearGradient id="g4" x1="0.883" y1="0.179" x2="0.117" y2="0.821"><stop offset="0" stop-color="#bfe0e6" stop-opacity="1"/><stop offset="0.5" stop-color="#bfe0e6" stop-opacity="0"/></linearGradient><linearGradient id="g5" x1="0.883" y1="0.179" x2="0.117" y2="0.821"><stop offset="0" stop-color="#2a6cb0" stop-opacity="1"/><stop offset="0.15" stop-color="#2a6cb0" stop-opacity="1"/><stop offset="0.5" stop-color="#2a6cb0" stop-opacity="0"/></linearGradient><linearGradient id="g6" x1="0.117" y1="0.821" x2="0.883" y2="0.179"><stop offset="0" stop-color="#e6c8b8" stop-opacity="1"/><stop offset="0.5" stop-color="#e6c8b8" stop-opacity="0"/></linearGradient><linearGradient id="g7" x1="0.117" y1="0.821" x2="0.883" y2="0.179"><stop offset="0" stop-color="#8e2a38" stop-opacity="1"/><stop offset="0.15" stop-color="#8e2a38" stop-opacity="1"/><stop offset="0.5" stop-color="#8e2a38" stop-opacity="0"/></linearGradient><linearGradient id="g8" x1="0" y1="0" x2="0" y2="1"><stop offset="0" stop-color="#e6c8b8" stop-opacity="1"/><stop offset="0.07" stop-color="#e6c8b8" stop-opacity="0.9"/><stop offset="0.2" stop-color="#e6c8b8" stop-opacity="0.0"/></linearGradient><linearGradient id="g9" x1="0" y1="0" x2="0" y2="1"><stop offset="0" stop-color="#8e2a38" stop-opacity="1"/><stop offset="0.052" stop-color="#8e2a38" stop-opacity="0.9"/><stop offset="0.15" stop-color="#8e2a38" stop-opacity="0.0"/></linearGradient><linearGradient id="g10" x1="0" y1="0" x2="0" y2="1"><stop offset="0.8" stop-color="#bfe0e6" stop-opacity="0.0"/><stop offset="0.93" stop-color="#bfe0e6" stop-opacity="0.9"/><stop offset="1" stop-color="#bfe0e6" stop-opacity="1"/></linearGradient><linearGradient id="g11" x1="0" y1="0" x2="0" y2="1"><stop offset="0.85" stop-color="#2a6cb0" stop-opacity="0.0"/><stop offset="0.948" stop-color="#2a6cb0" stop-opacity="0.9"/><stop offset="1" stop-color="#2a6cb0" stop-opacity="1"/></linearGradient><linearGradient id="g12" x1="0" y1="0" x2="0" y2="1"><stop offset="0" stop-color="#2a6cb0" stop-opacity="1"/><stop offset="0.12" stop-color="#2a6cb0" stop-opacity="1"/><stop offset="0.3" stop-color="#2a6cb0" stop-opacity="0"/><stop offset="0.7" stop-color="#2a6cb0" stop-opacity="0"/><stop offset="0.88" stop-color="#2a6cb0" stop-opacity="1"/><stop offset="1" stop-color="#2a6cb0" stop-opacity="1"/></linearGradient><linearGradient id="g13" x1="0" y1="0" x2="0" y2="1"><stop offset="0" stop-color="#f4eccc" stop-opacity="1"/><stop offset="0.12" stop-color="#f4eccc" stop-opacity="1"/><stop offset="0.4" stop-color="#f4eccc" stop-opacity="0.15"/><stop offset="0.6" stop-color="#f4eccc" stop-opacity="0.15"/><stop offset="0.88" stop-color="#f4eccc" stop-opacity="1"/><stop offset="1" stop-color="#f4eccc" stop-opacity="1"/></linearGradient><linearGradient id="g14" x1="0" y1="0" x2="0" y2="1"><stop offset="0" stop-color="#2a6cb0" stop-opacity="1"/><stop offset="0.04" stop-color="#2a6cb0" stop-opacity="1"/><stop offset="0.13" stop-color="#2a6cb0" stop-opacity="0"/><stop offset="0.87" stop-color="#2a6cb0" stop-opacity="0"/><stop offset="0.96" stop-color="#2a6cb0" stop-opacity="1"/><stop offset="1" stop-color="#2a6cb0" stop-opacity="1"/></linearGradient><linearGradient id="g15" x1="0" y1="0" x2="0" y2="1"><stop offset="0" stop-color="#8e2c42" stop-opacity="1.0"/><stop offset="0.06" stop-color="#8e2c42" stop-opacity="1.0"/><stop offset="0.4" stop-color="#8e2c42" stop-opacity="0.22"/><stop offset="0.6" stop-color="#8e2c42" stop-opacity="0.22"/><stop offset="0.94" stop-color="#8e2c42" stop-opacity="1.0"/><stop offset="1" stop-color="#8e2c42" stop-opacity="1.0"/></linearGradient><linearGradient id="g16" x1="0" y1="0" x2="0" y2="1"><stop offset="0" stop-color="#1c4f92" stop-opacity="0.9"/><stop offset="0.05" stop-color="#1c4f92" stop-opacity="0.9"/><stop offset="0.3" stop-color="#1c4f92" stop-opacity="0.15"/><stop offset="0.7" stop-color="#1c4f92" stop-opacity="0.15"/><stop offset="0.95" stop-color="#1c4f92" stop-opacity="0.9"/><stop offset="1" stop-color="#1c4f92" stop-opacity="0.9"/></linearGradient><linearGradient id="g17" x1="0" y1="0" x2="0" y2="1"><stop offset="0" stop-color="#c4dde2" stop-opacity="1.0"/><stop offset="0.168" stop-color="#c4dde2" stop-opacity="0.9"/><stop offset="0.48" stop-color="#c4dde2" stop-opacity="0.0"/></linearGradient><linearGradient id="g18" x1="0" y1="0" x2="0" y2="1"><stop offset="0" stop-color="#4a8cc8" stop-opacity="1.0"/><stop offset="0.14" stop-color="#4a8cc8" stop-opacity="0.9"/><stop offset="0.4" stop-color="#4a8cc8" stop-opacity="0.0"/></linearGradient><linearGradient id="g19" x1="0" y1="0" x2="0" y2="1"><stop offset="0" stop-color="#1c4c90" stop-opacity="1.0"/><stop offset="0.084" stop-color="#1c4c90" stop-opacity="0.9"/><stop offset="0.24" stop-color="#1c4c90" stop-opacity="0.0"/></linearGradient><linearGradient id="g20" x1="0" y1="0" x2="0" y2="1"><stop offset="0.52" stop-color="#ecd4c2" stop-opacity="0.0"/><stop offset="0.832" stop-color="#ecd4c2" stop-opacity="0.9"/><stop offset="1" stop-color="#ecd4c2" stop-opacity="1.0"/></linearGradient><linearGradient id="g21" x1="0" y1="0" x2="0" y2="1"><stop offset="0.6" stop-color="#b35565" stop-opacity="0.0"/><stop offset="0.86" stop-color="#b35565" stop-opacity="0.9"/><stop offset="1" stop-color="#b35565" stop-opacity="1.0"/></linearGradient><linearGradient id="g22" x1="0" y1="0" x2="0" y2="1"><stop offset="0.76" stop-color="#7a1c34" stop-opacity="0.0"/><stop offset="0.916" stop-color="#7a1c34" stop-opacity="0.9"/><stop offset="1" stop-color="#7a1c34" stop-opacity="1.0"/></linearGradient><linearGradient id="g23" x1="0" y1="0" x2="0" y2="1"><stop offset="0" stop-color="#8e3244" stop-opacity="1.0"/><stop offset="0.06" stop-color="#8e3244" stop-opacity="1.0"/><stop offset="0.4" stop-color="#8e3244" stop-opacity="0.3"/><stop offset="0.6" stop-color="#8e3244" stop-opacity="0.3"/><stop offset="0.94" stop-color="#8e3244" stop-opacity="1.0"/><stop offset="1" stop-color="#8e3244" stop-opacity="1.0"/></linearGradient><linearGradient id="g24" x1="0" y1="0" x2="0" y2="1"><stop offset="0" stop-color="#1c4f92" stop-opacity="0.9"/><stop offset="0.05" stop-color="#1c4f92" stop-opacity="0.9"/><stop offset="0.3" stop-color="#1c4f92" stop-opacity="0.2"/><stop offset="0.7" stop-color="#1c4f92" stop-opacity="0.2"/><stop offset="0.95" stop-color="#1c4f92" stop-opacity="0.9"/><stop offset="1" stop-color="#1c4f92" stop-opacity="0.9"/></linearGradient><linearGradient id="g25" x1="0" y1="0" x2="0" y2="1"><stop offset="0" stop-color="#f4e8c4" stop-opacity="1.0"/><stop offset="0.08" stop-color="#f4e8c4" stop-opacity="1.0"/><stop offset="0.4" stop-color="#f4e8c4" stop-opacity="0.45"/><stop offset="0.6" stop-color="#f4e8c4" stop-opacity="0.45"/><stop offset="0.92" stop-color="#f4e8c4" stop-opacity="1.0"/><stop offset="1" stop-color="#f4e8c4" stop-opacity="1.0"/></linearGradient><linearGradient id="g26" x1="0" y1="0" x2="0" y2="1"><stop offset="0" stop-color="#3a7ebe" stop-opacity="1.0"/><stop offset="0.05" stop-color="#3a7ebe" stop-opacity="1.0"/><stop offset="0.2" stop-color="#3a7ebe" stop-opacity="0.0"/><stop offset="0.8" stop-color="#3a7ebe" stop-opacity="0.0"/><stop offset="0.95" stop-color="#3a7ebe" stop-opacity="1.0"/><stop offset="1" stop-color="#3a7ebe" stop-opacity="1.0"/></linearGradient><linearGradient id="g27" x1="0" y1="0" x2="0" y2="1"><stop offset="0" stop-color="#1c4f92" stop-opacity="1.0"/><stop offset="0.03" stop-color="#1c4f92" stop-opacity="1.0"/><stop offset="0.1" stop-color="#1c4f92" stop-opacity="0.0"/><stop offset="0.9" stop-color="#1c4f92" stop-opacity="0.0"/><stop offset="0.97" stop-color="#1c4f92" stop-opacity="1.0"/><stop offset="1" stop-color="#1c4f92" stop-opacity="1.0"/></linearGradient><linearGradient id="g28" x1="0" y1="0" x2="0" y2="1"><stop offset="0" stop-color="#a8d0d8" stop-opacity="0.8"/><stop offset="0.05" stop-color="#a8d0d8" stop-opacity="0.8"/><stop offset="0.3" stop-color="#a8d0d8" stop-opacity="0.2"/><stop offset="0.7" stop-color="#a8d0d8" stop-opacity="0.2"/><stop offset="0.95" stop-color="#a8d0d8" stop-opacity="0.8"/><stop offset="1" stop-color="#a8d0d8" stop-opacity="0.8"/></linearGradient><linearGradient id="g29" x1="0" y1="0" x2="0" y2="1"><stop offset="0" stop-color="#dfe6d6" stop-opacity="1.0"/><stop offset="0.1" stop-color="#dfe6d6" stop-opacity="1.0"/><stop offset="0.45" stop-color="#dfe6d6" stop-opacity="0.8"/><stop offset="0.55" stop-color="#dfe6d6" stop-opacity="0.8"/><stop offset="0.9" stop-color="#dfe6d6" stop-opacity="1.0"/><stop offset="1" stop-color="#dfe6d6" stop-opacity="1.0"/></linearGradient><linearGradient id="g30" x1="0" y1="0" x2="0" y2="1"><stop offset="0" stop-color="#3d82c2" stop-opacity="1.0"/><stop offset="0.06" stop-color="#3d82c2" stop-opacity="1.0"/><stop offset="0.25" stop-color="#3d82c2" stop-opacity="0.0"/><stop offset="0.75" stop-color="#3d82c2" stop-opacity="0.0"/><stop offset="0.94" stop-color="#3d82c2" stop-opacity="1.0"/><stop offset="1" stop-color="#3d82c2" stop-opacity="1.0"/></linearGradient><linearGradient id="g31" x1="0" y1="0" x2="0" y2="1"><stop offset="0" stop-color="#1a4a8c" stop-opacity="1.0"/><stop offset="0.04" stop-color="#1a4a8c" stop-opacity="1.0"/><stop offset="0.17" stop-color="#1a4a8c" stop-opacity="0.0"/><stop offset="0.83" stop-color="#1a4a8c" stop-opacity="0.0"/><stop offset="0.96" stop-color="#1a4a8c" stop-opacity="1.0"/><stop offset="1" stop-color="#1a4a8c" stop-opacity="1.0"/></linearGradient><linearGradient id="g32" x1="0" y1="0" x2="0" y2="1"><stop offset="0" stop-color="#c4dde2" stop-opacity="1.0"/><stop offset="0.168" stop-color="#c4dde2" stop-opacity="0.9"/><stop offset="0.48" stop-color="#c4dde2" stop-opacity="0.0"/></linearGradient><linearGradient id="g33" x1="0" y1="0" x2="0" y2="1"><stop offset="0" stop-color="#4a8cc8" stop-opacity="1.0"/><stop offset="0.14" stop-color="#4a8cc8" stop-opacity="0.9"/><stop offset="0.4" stop-color="#4a8cc8" stop-opacity="0.0"/></linearGradient><linearGradient id="g34" x1="0" y1="0" x2="0" y2="1"><stop offset="0" stop-color="#1c4c90" stop-opacity="1.0"/><stop offset="0.084" stop-color="#1c4c90" stop-opacity="0.9"/><stop offset="0.24" stop-color="#1c4c90" stop-opacity="0.0"/></linearGradient><linearGradient id="g35" x1="0" y1="0" x2="0" y2="1"><stop offset="0.52" stop-color="#ecd4c2" stop-opacity="0.0"/><stop offset="0.832" stop-color="#ecd4c2" stop-opacity="0.9"/><stop offset="1" stop-color="#ecd4c2" stop-opacity="1.0"/></linearGradient><linearGradient id="g36" x1="0" y1="0" x2="0" y2="1"><stop offset="0.6" stop-color="#b35565" stop-opacity="0.0"/><stop offset="0.86" stop-color="#b35565" stop-opacity="0.9"/><stop offset="1" stop-color="#b35565" stop-opacity="1.0"/></linearGradient><linearGradient id="g37" x1="0" y1="0" x2="0" y2="1"><stop offset="0.76" stop-color="#7a1c34" stop-opacity="0.0"/><stop offset="0.916" stop-color="#7a1c34" stop-opacity="0.9"/><stop offset="1" stop-color="#7a1c34" stop-opacity="1.0"/></linearGradient></defs>
</svg></body></html>
